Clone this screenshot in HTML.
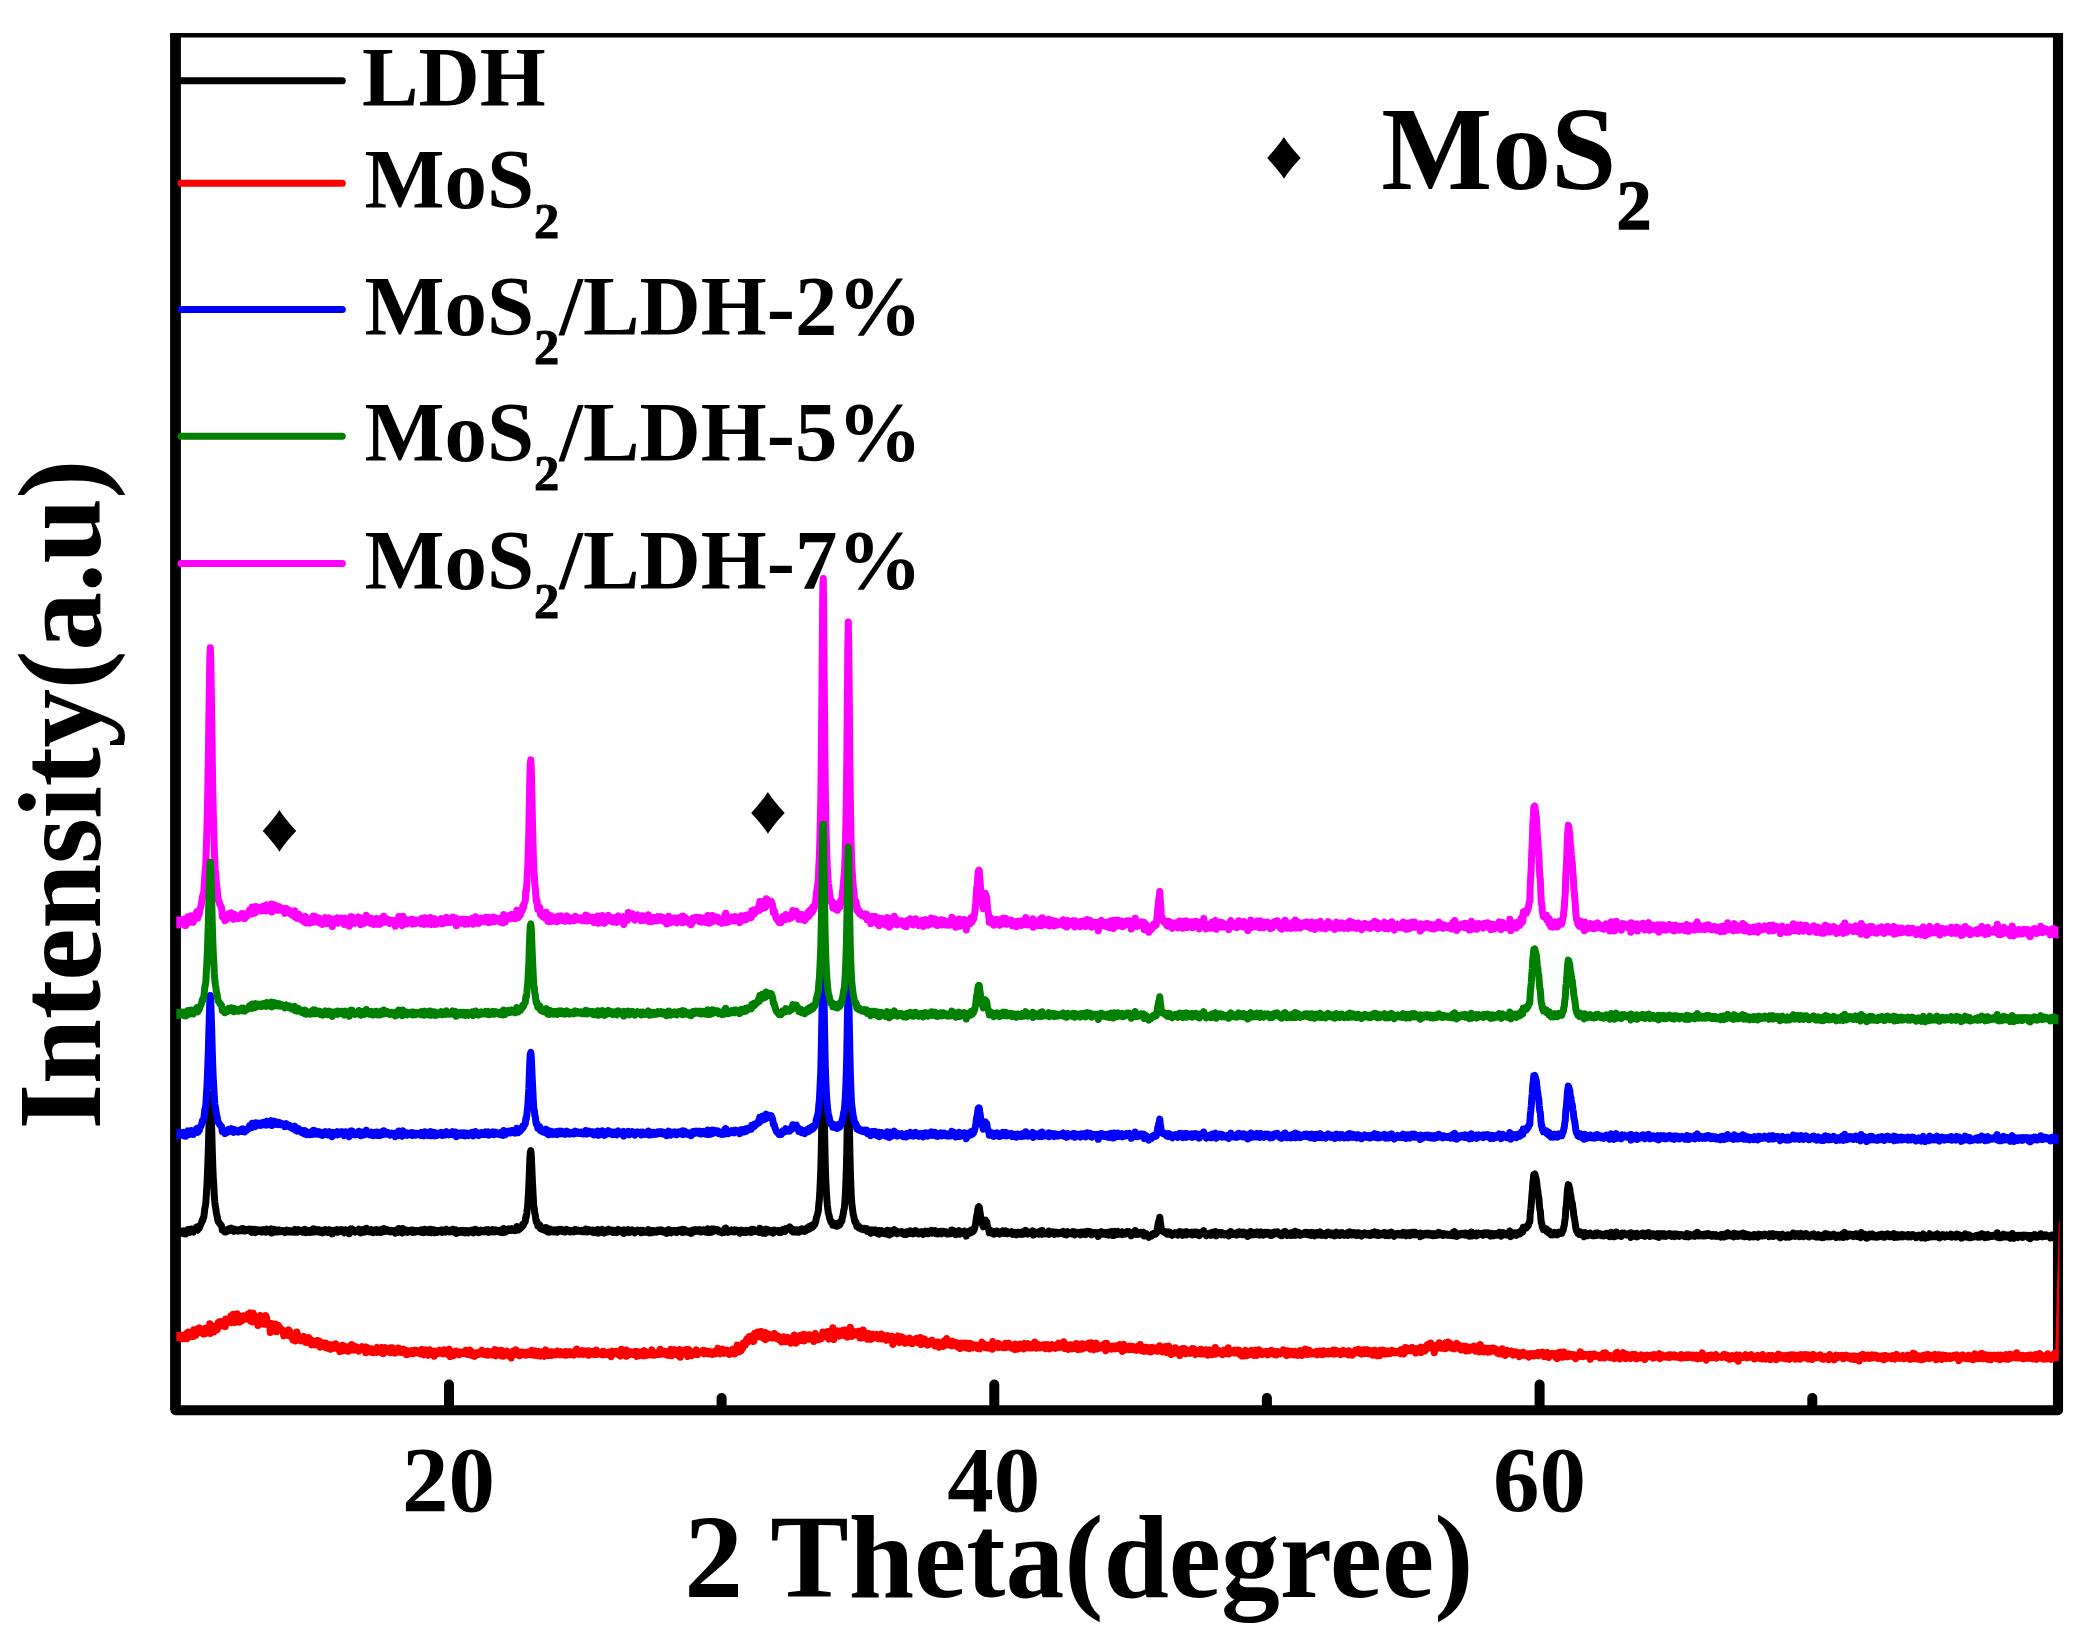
<!DOCTYPE html>
<html lang="en"><head><meta charset="utf-8"><title>XRD patterns</title>
<style>html,body{margin:0;padding:0;background:#fff}body{width:2092px;height:1648px;overflow:hidden}svg{display:block}</style></head>
<body>
<svg width="2092" height="1648" viewBox="0 0 2092 1648" font-family="'Liberation Serif',serif" font-weight="700" fill="#000">
<rect width="2092" height="1648" fill="#fff"/>
<g fill="#000" id="frame">
<rect x="170.1" y="33" width="10.8" height="1377"/>
<rect x="170.1" y="33" width="1892.9" height="4.5"/>
<path d="M175.5 1410.3L2058 1410.3L2058 42" fill="none" stroke="#000" stroke-width="10.1" stroke-linejoin="round" stroke-linecap="round"/>
<rect x="2052.95" y="33" width="10.1" height="10"/>
</g>
<g stroke="#000" stroke-width="10" stroke-linecap="round" id="ticks">
<line x1="449.0" y1="1384.5" x2="449.0" y2="1408"/>
<line x1="994.3" y1="1384.5" x2="994.3" y2="1408"/>
<line x1="1539.6" y1="1384.5" x2="1539.6" y2="1408"/>
<line x1="721.6" y1="1398" x2="721.6" y2="1408"/>
<line x1="1266.9" y1="1398" x2="1266.9" y2="1408"/>
<line x1="1812.3" y1="1398" x2="1812.3" y2="1408"/>
</g>
<g font-size="93" text-anchor="middle" id="ticklabels">
<text x="448.4" y="1510.7">20</text>
<text x="993.7" y="1510.7">40</text>
<text x="1539.6" y="1510.7">60</text>
</g>
<text x="684.2" y="1596.8" font-size="117.6" id="xtitle">2 Theta(degree)</text>
<text transform="translate(100.3,1129.5) rotate(-90)" font-size="117.6" textLength="670" lengthAdjust="spacing" id="ytitle">Intensity(a.u)</text>
<g stroke-width="7" stroke-linecap="round" id="leglines">
<line x1="181" y1="80.7" x2="342.3" y2="80.7" stroke="#000000"/>
<line x1="181" y1="183.3" x2="342.3" y2="183.3" stroke="#ff0000"/>
<line x1="181" y1="309.5" x2="342.3" y2="309.5" stroke="#0000ff"/>
<line x1="181" y1="436.2" x2="342.3" y2="436.2" stroke="#008000"/>
<line x1="181" y1="563.5" x2="342.3" y2="563.5" stroke="#ff00ff"/>
</g>
<g id="legtext">
<text x="362" y="105.7" font-size="84.8">LDH</text>
<text x="364.5" y="208.3" font-size="84.8" >MoS<tspan font-size="50.46" dy="29.26" stroke="#000" stroke-width="0.93">2</tspan></text>
<text x="364.5" y="334.5" font-size="84.8" >MoS<tspan font-size="50.46" dy="29.26" stroke="#000" stroke-width="0.93">2</tspan><tspan dy="-29.26">/LDH-2%</tspan></text>
<text x="364.5" y="461.2" font-size="84.8" >MoS<tspan font-size="50.46" dy="29.26" stroke="#000" stroke-width="0.93">2</tspan><tspan dy="-29.26">/LDH-5%</tspan></text>
<text x="364.5" y="588.5" font-size="84.8" >MoS<tspan font-size="50.46" dy="29.26" stroke="#000" stroke-width="0.93">2</tspan><tspan dy="-29.26">/LDH-7%</tspan></text>
</g>
<text x="1381.2" y="188.9" font-size="117.6" id="annot">MoS<tspan font-size="69.97" dy="40.57" stroke="#000" stroke-width="1.29">2</tspan></text>
<g id="diamonds">
<text transform="translate(1283.9,177.8) scale(1.101,1)" font-size="68.5" text-anchor="middle">♦</text>
<text transform="translate(279.4,850.7) scale(1.101,1)" font-size="68.5" text-anchor="middle">♦</text>
<text transform="translate(767.9,833.2) scale(1.101,1)" font-size="68.5" text-anchor="middle">♦</text>
</g>
<clipPath id="cp"><rect x="1763" y="0" width="18821" height="16480"/></clipPath>
<g fill="none" stroke-width="70" stroke-linejoin="round" stroke-linecap="butt" id="curves" transform="scale(0.1)" clip-path="url(#cp)">
<path stroke="#000000" d="M1743 12347l5-21 5 5 5 3 5-12 5 8 5-1 5-17 5 26 5-4 5-12 5 3 5 6 5-7 5-1 5-12 5 19 5-5 5 1 5-18 5 30 5-15 5-6 5 23 5-21 5-14 5 9 5-19 5 31 5-15 5-4 5 16 5-27 5 20 5-26 5 12 5-7 5 24 5 2 5-22 5 9 5-12 5 5 5-16 5-12 5-4 5 18 5 14 5-24 5-12 5 18 5-22 5-8 5-7 5-13 5-12 5-23 5 4 5-23 5-8 5-41 5-45 5-21 5-30 5-80 5-81 5-100 5-123 5-145 5-187 5-158 5-164 5-54 5 70 5 147 5 166 5 183 5 156 5 115 5 81 5 99 5 62 5 42 5 25 5 37 5 21 5 23 5 32 5 16 5 3 5 10 5 10 5 2 5 8 5 3 5 15 5 33 5-3 5-1 5 8 5 2 5 14 5 0 5-21 5 14 5-16 5 14 5-15 5 12 5-21 5 1 5 6 5 8 5-4 5-17 5 15 5-1 5-4 5-1 5 23 5-19 5-4 5 14 5-4 5-1 5 8 5-2 5-1 5 6 5-6 5-8 5 2 5-1 5 7 5-12 5-7 5 19 5-13 5-6 5 22 5-10 5 12 5-10 5-5 5-1 5 7 5 3 5-6 5 6 5-12 5 15 5-17 5 15 5 9 5 4 5 6 5-31 5 22 5 4 5-2 5-18 5 13 5 14 5-32 5 19 5 6 5-17 5 12 5-16 5 3 5 0 5 10 5-3 5 10 5-18 5 8 5 10 5-4 5-18 5 20 5-11 5 8 5-1 5 9 5-11 5-18 5 4 5 21 5-10 5 13 5-8 5-10 5 18 5-18 5-12 5 40 5-38 5 24 5 3 5-8 5-17 5 26 5-24 5 1 5 10 5 11 5-5 5 5 5-12 5 3 5-10 5 8 5 9 5-9 5 8 5-10 5 0 5 6 5-2 5 7 5-4 5 15 5-19 5 0 5-7 5 10 5 6 5-14 5 7 5 7 5-8 5-3 5 14 5-8 5 2 5 8 5 0 5-15 5-1 5 7 5-4 5-16 5 30 5-12 5 7 5-18 5 23 5-18 5 5 5-13 5 12 5 0 5 0 5 6 5-3 5 8 5-14 5-5 5 10 5 6 5 6 5-4 5-25 5 21 5 10 5-13 5-6 5 8 5-8 5 11 5-6 5 13 5-8 5-12 5 13 5 3 5-14 5 1 5-18 5 31 5-14 5-15 5 3 5 15 5 9 5-8 5 6 5-15 5-3 5 22 5-4 5-5 5 12 5-21 5 5 5 14 5 8 5-18 5 16 5-22 5 9 5-4 5-14 5 18 5 6 5-10 5 1 5 14 5-26 5-2 5 8 5-5 5 24 5-10 5-11 5 2 5 34 5-34 5-1 5 10 5 3 5-4 5-10 5-3 5 17 5-6 5-15 5 27 5-4 5-10 5 0 5 5 5-9 5-7 5 16 5-16 5 17 5-17 5 12 5 0 5 18 5-27 5-3 5 7 5-4 5 5 5 9 5 4 5 8 5-23 5 33 5-7 5-21 5-20 5 22 5 1 5-23 5 23 5-2 5-6 5 13 5 4 5-14 5 7 5-9 5-1 5 8 5 4 5-10 5-16 5 27 5-21 5 17 5 16 5-18 5-11 5-3 5 26 5-12 5 6 5 3 5-9 5-2 5-7 5-20 5 15 5 14 5-1 5 5 5-5 5 3 5 6 5-16 5 6 5-13 5 25 5-9 5 4 5 10 5-4 5-11 5 8 5-21 5 18 5-3 5-17 5 28 5-19 5 13 5-11 5 14 5 3 5-20 5-7 5 13 5 10 5-12 5-2 5 10 5-31 5 20 5-7 5 16 5-10 5-3 5 7 5-11 5 14 5-6 5 3 5-3 5 15 5-10 5 7 5-1 5-12 5 13 5-2 5 0 5-7 5-1 5 12 5 13 5-28 5 13 5-9 5 11 5-3 5 6 5-37 5 21 5-4 5 8 5-5 5 0 5 13 5 12 5-46 5 25 5 5 5-2 5-4 5-9 5 3 5 16 5 4 5-10 5-9 5 9 5-3 5 8 5-4 5-7 5 7 5-13 5 19 5 4 5-23 5 16 5-14 5 20 5-2 5-11 5 12 5-14 5-2 5 1 5 4 5-2 5 5 5-7 5 13 5 2 5-14 5-9 5 20 5 4 5-12 5-11 5 15 5 12 5-33 5 23 5-8 5-5 5 13 5-17 5 15 5 10 5-11 5-10 5-9 5 5 5-5 5 33 5-18 5-8 5-2 5 2 5 7 5-9 5 28 5-23 5 0 5 10 5 11 5-1 5-17 5 7 5-1 5 3 5-2 5-12 5-3 5 14 5-13 5 24 5-12 5-11 5 7 5-2 5 4 5 10 5-23 5-4 5 21 5-4 5 3 5 2 5-6 5 10 5-16 5 9 5-9 5-3 5 17 5 0 5-24 5 7 5 14 5 7 5-16 5 4 5-11 5 37 5-19 5 4 5-3 5 3 5-3 5-9 5 10 5-6 5 11 5-19 5 2 5 11 5 6 5-11 5-8 5 6 5-4 5 23 5-9 5 3 5-9 5-8 5 16 5 5 5-11 5-5 5 10 5-14 5 11 5-14 5-3 5 15 5-2 5 15 5-21 5 3 5-11 5-7 5 1 5 21 5-16 5 22 5 3 5-16 5 18 5-13 5 8 5-13 5 12 5-19 5 15 5-10 5 3 5 7 5-4 5-3 5 8 5 1 5-21 5 18 5 1 5-13 5 11 5-17 5 27 5-17 5 2 5 12 5-13 5 7 5-16 5 5 5-8 5 11 5 12 5-8 5 6 5-18 5 1 5 4 5 10 5-2 5-4 5 6 5-7 5 1 5 12 5-18 5 7 5 14 5-15 5 6 5-13 5 25 5-41 5 11 5 0 5 26 5-13 5-6 5-10 5 16 5-3 5-8 5-8 5 3 5 13 5 0 5-3 5-2 5-16 5 17 5-11 5 9 5 4 5-12 5-4 5 18 5-7 5-11 5-23 5 26 5 5 5 3 5-19 5-2 5 0 5 9 5-22 5 6 5-12 5 7 5-24 5 12 5-17 5-8 5-5 5-10 5-47 5 1 5-37 5-50 5-40 5-86 5-86 5-135 5-129 5-80 5-18 5 46 5 118 5 113 5 102 5 97 5 83 5 18 5 51 5 16 5 42 5 25 5-6 5 20 5 26 5-6 5-4 5 5 5-2 5 30 5-11 5 21 5 1 5-13 5 4 5 14 5-5 5 3 5-17 5 26 5-16 5-13 5 17 5 11 5 17 5-23 5-9 5 34 5-19 5-3 5-7 5 1 5 24 5-17 5-2 5 1 5 20 5-20 5 12 5-4 5 0 5-10 5 15 5 9 5-16 5-8 5-3 5 14 5-4 5 2 5 1 5-14 5 21 5-5 5-2 5 3 5 6 5-8 5-9 5 20 5-15 5-3 5-8 5 15 5-10 5 5 5 10 5-4 5 9 5-7 5-6 5 0 5-1 5 11 5-6 5-4 5 12 5-7 5-6 5-10 5 19 5-2 5-1 5-5 5-4 5 6 5 4 5-3 5 0 5-3 5 8 5-1 5-10 5 15 5 0 5 0 5-9 5 0 5-10 5 19 5-28 5 17 5 0 5 12 5-8 5-10 5-4 5 7 5 8 5-1 5-2 5-5 5 5 5 11 5-20 5 11 5 15 5-10 5-10 5 11 5-13 5 7 5 15 5 3 5-34 5 23 5 12 5-24 5 7 5 12 5-19 5 9 5-5 5-17 5 21 5-5 5 11 5 11 5-13 5-10 5 7 5-2 5 8 5-24 5 3 5-8 5 25 5-6 5-6 5-1 5 2 5-4 5 6 5-2 5 18 5-10 5-11 5 3 5 17 5-7 5-2 5 4 5 8 5-26 5 4 5-9 5 21 5-8 5-3 5-1 5 14 5-8 5-4 5 17 5-22 5-2 5 37 5-28 5-2 5-2 5 6 5 9 5-1 5-2 5-7 5-12 5 17 5 12 5-4 5-12 5 9 5-11 5 3 5-12 5 9 5 5 5-3 5 9 5 10 5-5 5-16 5-4 5 1 5-3 5 10 5 3 5-2 5 0 5 0 5-3 5-6 5 24 5-7 5-18 5 0 5 3 5 6 5 11 5-2 5 1 5 0 5 0 5-4 5-2 5-6 5-15 5 15 5 19 5-23 5-1 5 16 5-9 5-5 5 19 5-9 5 2 5-13 5 10 5-1 5 4 5 3 5 0 5-9 5 5 5-18 5 17 5 1 5-10 5-4 5 7 5-11 5 15 5-1 5-12 5 10 5 10 5 0 5-1 5-11 5-2 5 0 5 9 5 17 5-9 5 2 5-3 5-28 5 13 5-2 5 16 5 4 5-22 5 7 5 5 5-10 5-2 5 0 5 15 5-17 5 19 5-10 5 6 5 8 5-21 5-2 5 12 5-14 5 3 5 6 5 3 5-14 5 9 5 9 5 7 5-31 5 31 5-4 5-19 5-4 5 18 5-8 5 6 5 6 5-11 5 5 5 3 5 4 5 8 5-1 5-13 5-5 5 25 5-17 5-2 5-14 5 18 5-15 5 3 5-9 5 8 5 6 5-15 5 6 5 7 5-11 5 0 5 4 5-5 5 19 5-15 5 16 5 2 5-20 5 12 5-5 5-7 5 8 5 1 5 9 5 3 5-20 5 6 5 9 5 6 5-34 5 35 5-14 5 17 5-19 5-4 5 8 5 11 5-11 5-23 5 30 5-22 5 6 5-2 5-7 5 6 5 3 5 3 5 5 5-2 5-11 5 12 5 11 5 0 5-8 5 5 5 2 5 5 5 3 5-19 5 0 5 17 5 1 5 0 5-38 5 21 5-29 5 38 5-7 5 0 5-2 5 14 5-15 5 13 5-5 5-2 5 1 5-3 5-12 5 18 5 0 5-8 5 8 5 2 5-21 5 11 5-3 5-5 5 12 5-11 5 4 5 7 5 1 5-1 5 19 5-26 5 7 5-14 5 16 5 7 5 0 5-17 5 3 5 15 5-13 5 10 5-19 5 23 5-3 5-6 5-12 5 6 5 3 5 1 5-3 5-1 5 4 5 11 5-32 5 6 5-2 5 9 5-11 5 22 5-4 5-3 5-4 5 8 5 0 5 1 5-10 5 14 5-21 5 26 5-41 5 24 5-6 5 19 5-22 5 32 5-32 5 34 5-15 5-4 5 4 5 16 5-12 5-30 5 33 5-9 5-18 5 23 5-19 5 13 5 1 5-9 5 13 5-16 5 11 5-7 5 4 5 20 5-18 5-11 5 9 5-6 5 7 5 2 5-1 5 0 5-6 5 9 5 6 5-16 5 5 5 1 5 12 5-2 5-17 5 7 5-15 5 5 5 8 5 5 5 1 5-15 5-14 5 12 5-12 5 0 5-8 5 1 5-3 5 2 5-10 5 18 5-9 5 12 5 22 5-10 5-11 5 28 5-3 5 2 5-9 5 2 5-6 5-5 5 21 5-18 5-2 5 0 5 22 5-10 5-12 5 2 5 5 5 3 5-24 5 23 5-12 5-5 5 2 5 11 5 8 5-17 5 3 5-14 5 11 5 2 5-24 5 7 5 11 5-27 5 11 5 7 5-25 5 9 5 1 5 3 5-25 5 17 5-14 5 1 5-8 5-18 5-10 5-36 5-13 5-17 5-19 5-20 5-68 5-41 5-83 5-103 5-113 5-212 5-254 5-323 5-278 5-37 5 261 5 294 5 275 5 229 5 146 5 100 5 81 5 62 5 42 5 40 5 15 5 21 5 26 5 11 5 18 5-3 5 9 5-4 5 30 5-23 5 18 5-7 5 13 5 6 5-23 5 14 5-15 5 29 5-19 5-13 5 5 5 15 5-3 5-9 5-27 5-3 5 5 5-37 5-15 5-29 5-32 5-17 5-59 5-76 5-102 5-143 5-204 5-286 5-278 5-133 5 147 5 261 5 263 5 221 5 151 5 113 5 76 5 37 5 41 5 35 5 16 5 30 5 22 5 9 5-5 5 13 5 31 5-15 5 22 5 4 5-4 5-3 5 15 5-7 5 9 5 5 5-5 5 7 5 1 5-8 5 12 5-3 5-10 5 15 5 2 5-2 5-13 5 28 5 0 5 1 5-3 5-14 5 14 5-10 5 31 5-26 5 12 5-21 5 4 5 7 5 12 5-1 5-2 5-20 5 29 5-20 5 25 5 2 5-9 5 2 5-22 5 37 5-22 5 8 5-18 5 8 5-11 5 10 5 2 5 3 5 11 5-9 5-2 5-2 5 19 5-24 5 17 5-30 5 10 5 13 5-6 5 31 5-4 5-39 5 4 5 9 5 18 5-6 5-7 5-17 5 6 5-18 5 11 5 19 5 4 5-20 5 13 5 15 5-14 5-4 5 9 5-1 5-4 5-6 5 1 5 5 5-6 5 18 5-4 5 2 5 9 5-4 5-2 5-10 5-5 5 24 5-29 5 1 5-2 5 10 5 2 5 6 5-12 5-14 5 19 5 7 5-9 5-2 5 7 5 8 5-14 5-13 5 8 5 4 5-16 5 25 5-15 5 13 5-3 5-5 5 18 5-20 5-1 5 9 5 5 5-8 5-9 5 16 5-1 5 14 5-22 5 4 5-7 5-9 5 15 5 8 5-18 5 3 5-5 5 24 5-18 5 11 5-14 5 9 5-6 5-17 5 23 5 5 5-25 5 18 5-2 5-6 5 8 5-17 5 21 5 9 5-23 5 11 5 15 5-13 5-6 5-4 5 11 5-3 5 7 5-20 5 25 5-15 5 10 5-13 5-5 5 7 5-4 5 6 5 10 5 4 5-9 5-7 5 1 5 10 5 5 5-14 5 2 5-6 5 9 5 8 5-37 5 30 5-8 5-17 5 25 5-3 5 4 5-17 5 34 5-20 5-4 5 18 5-8 5 1 5 3 5-31 5 36 5-19 5 6 5 6 5-16 5 10 5 4 5-8 5 5 5-20 5 4 5 0 5 15 5 32 5-34 5-4 5 0 5 10 5-3 5-18 5 20 5-11 5 8 5-28 5 2 5 19 5-26 5 16 5-9 5-13 5-14 5-23 5-27 5-42 5-33 5-8 5-48 5-23 5-5 5 5 5 36 5 30 5 46 5 12 5 10 5 31 5 17 5 14 5-22 5-31 5-2 5-12 5 9 5 3 5 8 5 38 5 15 5 12 5 17 5 25 5-12 5-1 5 15 5-23 5 24 5-14 5 0 5 10 5 15 5-23 5 17 5-6 5-16 5 22 5-17 5-6 5 7 5 1 5 12 5-12 5 21 5-12 5-9 5-1 5 11 5-22 5-1 5 12 5 15 5-5 5-1 5-2 5-19 5 18 5-14 5 25 5-8 5-1 5 5 5-1 5-1 5 2 5-9 5-7 5 16 5 10 5-4 5-12 5 8 5-10 5 8 5-9 5 7 5 18 5-12 5 7 5-22 5 1 5 6 5 6 5-7 5 12 5-15 5 18 5-4 5-20 5 17 5-8 5 12 5-15 5 8 5 2 5-31 5 8 5 19 5-2 5 11 5-8 5-14 5 15 5-10 5 5 5-3 5 9 5-17 5 3 5-11 5 42 5-30 5 1 5-3 5 5 5 2 5 10 5-4 5 2 5-9 5 5 5 12 5-12 5 4 5-23 5 25 5-3 5 10 5-39 5 27 5-1 5 2 5-7 5 8 5 5 5-7 5-3 5 1 5-2 5 4 5-7 5-12 5 32 5-30 5 16 5-12 5 10 5-6 5 8 5-7 5-4 5 15 5 10 5-10 5-2 5-11 5 9 5 5 5-10 5 15 5-9 5 3 5-8 5 0 5 7 5 2 5-1 5-13 5 3 5 7 5-18 5 28 5-7 5-2 5-8 5 15 5-10 5 20 5-14 5-18 5 21 5-12 5 0 5 3 5 1 5 4 5 5 5-3 5-12 5-6 5 6 5 11 5 5 5 9 5-30 5 13 5-3 5-1 5 5 5-4 5 0 5-4 5 10 5 7 5 5 5-20 5-6 5 8 5-5 5 17 5-17 5 8 5-13 5 9 5 6 5 12 5-21 5 10 5-23 5 8 5 4 5 3 5 9 5 2 5-22 5 21 5-16 5 28 5-14 5-2 5-3 5 2 5 0 5-7 5 14 5-4 5 4 5-8 5 8 5-14 5 41 5-41 5 3 5 13 5 3 5-19 5-9 5 3 5 4 5 2 5 6 5 11 5 1 5-17 5 11 5 4 5 5 5-15 5-6 5 15 5 7 5-20 5 24 5-2 5-19 5-13 5 10 5 2 5 9 5-22 5 40 5-1 5-29 5-11 5 16 5 6 5 8 5-6 5-8 5-17 5 24 5 3 5-11 5 5 5 0 5-5 5-8 5 14 5-17 5 27 5-22 5 13 5-11 5 10 5-5 5 7 5-13 5-8 5 13 5-1 5-11 5 8 5-9 5 17 5-5 5 4 5 25 5-24 5 3 5 2 5-7 5-5 5 14 5 2 5-38 5 26 5-1 5-2 5 17 5-17 5 13 5-13 5 1 5 11 5-14 5 6 5-9 5 2 5 15 5-1 5-16 5 1 5 37 5-29 5 0 5 15 5-9 5 7 5 16 5 4 5-9 5 17 5-13 5-1 5 1 5-5 5 5 5-6 5-14 5 6 5-10 5-4 5 2 5 9 5-10 5 6 5-3 5-27 5-24 5-29 5-22 5-25 5-11 5-26 5 43 5 33 5 45 5 4 5 14 5-4 5 12 5 0 5 2 5 2 5-6 5 14 5 5 5 4 5-8 5 11 5 0 5-24 5 12 5-9 5 2 5 11 5-2 5 15 5 6 5-16 5-6 5 1 5 1 5 6 5-13 5 13 5-8 5 12 5 3 5 4 5-18 5-11 5-4 5 14 5-11 5-2 5 12 5-6 5 16 5 12 5-20 5 5 5-18 5 17 5-9 5-4 5-7 5 33 5-31 5 4 5 12 5 3 5 0 5-2 5-10 5 16 5-5 5-16 5 29 5-18 5 12 5-23 5 3 5 6 5-1 5 16 5-25 5 17 5-11 5 14 5-3 5-7 5 27 5-22 5 11 5-23 5 11 5 2 5 1 5-5 5-4 5-22 5 24 5-3 5 6 5 11 5 13 5-16 5 4 5-3 5 1 5-2 5-8 5 0 5 6 5 14 5-10 5 8 5-27 5 14 5 2 5 1 5-18 5-5 5-2 5 16 5 27 5-21 5-14 5 15 5-6 5 5 5-6 5-8 5 7 5 12 5-4 5 9 5-22 5 20 5-9 5 1 5 10 5-13 5 4 5 4 5 0 5 1 5 5 5-7 5-10 5 28 5-24 5 4 5-10 5-14 5 13 5 8 5 5 5-5 5 7 5 2 5 0 5-9 5 1 5-3 5-6 5 22 5-26 5 11 5 3 5-22 5 27 5-10 5 5 5-5 5-12 5 17 5-1 5 9 5-5 5-21 5 27 5-3 5 0 5-3 5-12 5 12 5-8 5 31 5-30 5-8 5 7 5 17 5-19 5-18 5 37 5-11 5-7 5 11 5-15 5-3 5 20 5-14 5 10 5-4 5 7 5-7 5-20 5 26 5-11 5 13 5-7 5 12 5-17 5-16 5 16 5 8 5-8 5-1 5 19 5-16 5 12 5-9 5-15 5 5 5 6 5 6 5-11 5-6 5 4 5 5 5-4 5 3 5 23 5-15 5-10 5 8 5 15 5-9 5-7 5-12 5-4 5 13 5 3 5-15 5 3 5 12 5-20 5 4 5 16 5 6 5-2 5 6 5 6 5-7 5-11 5 23 5-4 5-7 5-17 5 12 5-24 5 17 5-21 5 20 5 14 5-10 5 16 5-16 5 1 5-4 5 8 5-5 5 12 5 4 5-12 5-15 5 17 5 7 5-6 5-4 5 6 5 4 5-38 5 40 5-7 5-3 5-10 5 8 5 3 5-20 5 22 5-7 5 14 5-8 5-8 5 2 5 6 5-5 5 4 5-12 5-5 5 6 5-8 5 6 5 11 5-19 5 4 5 19 5-12 5 5 5-12 5 2 5 7 5 18 5-11 5-20 5 20 5 5 5-3 5-18 5 11 5 21 5-29 5 12 5-10 5-5 5 8 5 14 5 1 5-20 5 4 5-4 5-11 5 26 5 9 5-1 5-19 5 18 5-3 5-13 5 3 5-4 5 6 5 15 5-26 5-2 5 19 5-7 5-19 5 8 5 2 5 2 5 9 5 7 5-11 5 3 5-9 5 17 5 3 5-15 5-5 5 27 5-11 5-17 5-8 5 14 5 14 5-17 5 3 5-2 5 11 5 7 5-26 5 10 5 1 5-4 5-6 5 19 5-6 5 5 5 8 5-18 5 9 5-9 5 3 5 4 5-5 5-13 5 29 5-13 5-12 5-10 5 20 5 7 5 3 5 1 5-14 5 10 5-21 5 16 5 8 5-15 5 4 5 3 5 0 5 13 5-25 5 24 5-25 5 5 5-1 5 7 5-4 5 10 5-5 5 21 5-17 5-6 5 6 5 2 5-8 5-9 5 3 5 10 5 6 5-3 5-6 5 6 5-10 5 8 5 11 5-3 5 2 5-16 5 5 5-12 5 19 5-13 5-8 5 7 5 8 5-24 5 8 5 23 5-9 5-1 5-15 5 30 5-5 5-3 5-17 5 16 5 5 5-14 5 1 5-2 5 10 5-8 5-1 5-11 5-2 5 25 5 6 5-6 5 5 5-19 5 5 5 4 5-5 5 17 5-28 5 7 5 2 5-3 5 14 5-27 5 30 5-2 5-6 5 11 5 9 5-21 5 6 5-4 5 2 5-10 5-2 5 12 5-10 5 14 5-2 5-12 5 8 5-3 5-2 5 13 5-11 5 2 5-21 5 25 5-20 5 10 5 19 5 2 5-21 5-8 5 16 5-8 5 7 5-16 5 24 5 4 5-29 5 7 5 1 5 13 5-26 5 21 5-4 5-5 5 14 5-25 5 5 5 6 5 14 5-10 5-4 5 12 5-9 5-2 5 4 5 6 5 22 5-36 5 13 5-4 5-1 5 17 5-7 5-1 5-10 5-4 5 11 5-6 5-2 5 11 5-17 5 4 5 15 5-9 5 8 5-15 5 15 5-14 5 20 5-5 5-3 5 10 5-11 5-10 5 21 5-11 5 8 5-10 5 10 5-20 5-3 5-2 5 21 5-26 5 2 5 3 5 16 5 2 5-12 5 15 5-4 5 8 5-2 5-16 5 9 5-4 5 6 5-2 5-2 5 7 5-6 5 6 5-7 5-1 5 10 5 0 5 3 5-6 5-8 5 4 5 0 5-18 5 6 5 25 5-15 5-27 5 26 5 3 5-13 5 33 5-11 5-3 5-9 5 6 5 4 5-4 5-11 5 8 5 0 5 1 5-12 5 12 5-2 5 2 5-1 5-15 5 22 5-1 5-20 5 12 5-8 5 4 5 14 5-4 5 13 5-18 5-11 5 12 5-25 5 41 5-15 5 2 5-3 5-10 5 7 5-6 5 3 5 8 5-15 5 27 5-26 5 18 5-14 5-6 5 16 5-2 5-4 5 2 5-6 5 10 5-9 5 5 5 11 5-24 5 7 5-1 5-1 5-5 5 10 5 4 5-2 5-14 5 21 5 0 5-6 5-10 5 2 5 26 5-2 5-12 5-13 5 21 5-11 5 14 5-21 5 10 5-6 5 9 5-14 5 15 5-12 5-5 5 14 5-3 5-23 5 20 5 1 5 1 5 18 5-26 5 6 5-16 5 2 5 9 5 4 5-1 5 8 5 1 5 2 5-11 5 6 5-11 5 10 5 1 5-10 5-26 5 25 5 31 5-26 5-5 5 7 5 9 5-8 5-5 5-10 5 9 5-9 5 15 5 10 5-4 5-16 5-5 5-4 5 17 5-1 5 1 5-7 5-19 5-11 5 23 5-26 5 18 5-46 5 2 5-4 5 7 5 2 5-12 5 12 5-18 5 7 5-11 5-4 5-17 5-15 5-4 5-89 5-41 5-51 5-70 5-53 5-85 5-34 5-51 5-1 5-4 5 18 5 19 5 19 5 40 5 50 5 24 5 47 5 22 5 64 5 51 5 15 5 67 5 53 5 4 5 40 5 7 5 17 5-8 5-2 5 3 5 0 5-1 5 0 5 24 5-10 5 0 5 9 5 19 5-22 5 29 5 3 5 7 5-16 5-3 5 10 5 0 5 11 5-12 5-5 5-9 5 11 5 3 5 10 5-11 5 12 5-2 5-20 5-4 5 4 5 3 5-7 5 12 5-2 5 1 5-14 5-15 5-5 5-31 5-16 5-44 5-28 5-92 5-30 5-65 5-71 5-46 5-30 5 6 5 22 5 15 5 52 5 12 5 40 5 27 5 11 5 46 5 26 5 53 5 23 5 27 5 36 5 37 5 22 5 13 5-1 5 21 5-9 5 6 5 13 5-10 5-15 5 26 5-6 5-3 5 16 5-18 5 13 5-4 5 24 5-42 5 19 5 2 5 8 5-15 5-2 5 20 5-17 5 7 5-3 5 4 5-16 5 8 5 4 5 2 5 10 5-6 5 1 5-6 5 13 5-18 5 5 5-13 5 4 5 18 5-8 5-18 5 18 5-2 5-9 5 15 5-6 5 3 5 9 5-15 5 16 5-13 5 0 5 15 5-8 5-8 5 3 5 3 5-16 5 21 5-7 5-12 5 3 5 18 5-21 5 33 5-31 5 12 5-26 5 24 5-4 5 9 5-3 5-5 5 24 5-13 5-14 5 10 5-31 5 22 5 18 5-18 5 7 5-12 5 18 5-6 5-1 5 9 5 7 5-8 5-25 5 21 5-1 5-14 5-4 5 11 5 1 5 2 5-6 5 9 5 1 5-6 5 7 5-9 5-10 5 15 5 9 5 17 5-46 5 15 5-3 5 11 5-11 5 10 5 8 5-17 5 7 5 16 5-7 5-24 5 36 5-27 5 10 5-7 5-1 5-2 5 13 5-14 5-4 5 6 5 6 5-19 5 27 5-15 5 14 5 6 5-10 5 2 5-9 5-2 5-12 5 16 5-3 5-17 5 25 5 12 5-11 5 8 5-14 5-7 5 10 5-4 5-7 5 20 5-8 5-8 5 9 5-4 5 8 5 9 5-21 5-6 5 25 5 10 5-29 5-3 5-3 5 12 5 1 5-3 5 10 5-16 5 2 5-6 5 25 5-3 5 3 5-21 5 21 5-10 5 4 5-1 5-9 5 2 5-13 5 9 5 3 5-9 5 12 5 12 5-17 5-5 5 2 5 9 5 15 5-15 5-1 5-12 5 15 5 3 5-10 5 4 5-6 5 13 5 6 5-9 5 1 5-4 5-7 5-1 5 3 5 5 5-1 5 10 5-3 5 7 5-6 5-10 5 3 5-16 5 31 5-21 5 1 5 22 5-28 5 5 5 5 5-5 5 6 5 2 5 4 5-7 5 7 5-10 5 9 5 6 5-28 5 15 5 3 5-19 5-11 5 32 5-9 5 13 5-7 5 0 5-3 5 4 5-10 5 4 5 13 5-10 5 7 5-5 5-3 5-6 5 17 5-16 5 12 5-19 5 18 5 1 5-10 5-9 5 14 5 2 5-6 5-1 5 15 5-10 5-3 5 13 5-9 5-6 5 15 5-12 5 12 5-15 5 10 5 8 5-7 5 0 5 0 5 4 5-7 5 3 5-6 5 20 5-26 5 16 5-17 5 14 5 7 5-22 5 27 5-26 5 1 5 11 5-13 5 19 5-4 5-31 5 13 5 6 5 11 5-14 5 3 5 13 5-15 5 12 5-16 5 23 5 4 5-25 5-11 5 6 5 25 5-14 5 15 5-23 5 4 5 8 5 11 5-12 5-8 5 13 5-2 5 4 5-6 5-5 5 6 5-23 5 26 5 9 5-7 5-14 5-5 5 27 5-17 5 2 5 4 5-7 5 6 5 14 5-19 5 23 5-15 5-1 5 6 5 0 5 1 5-4 5-11 5 21 5-17 5-6 5 16 5-2 5-7 5 1 5 5 5 13 5-19 5-11 5 6 5 11 5-7 5-5 5 14 5 0 5-9 5 5 5-9 5 0 5 3 5-10 5 16 5-4 5-4 5 6 5 0 5-8 5 1 5-2 5 21 5-29 5 15 5 9 5-18 5 1 5-1 5-7 5 28 5-14 5-8 5 4 5 8 5-5 5-5 5 13 5-13 5 4 5 6 5-9 5 8 5-7 5 31 5-29 5 11 5-15 5-3 5 10 5-2 5 0 5 3 5 8 5 10 5 1 5-18 5 16 5-1 5-22 5 1 5 4 5 19 5-19 5-1 5 15 5-15 5 0 5 7 5-4 5-24 5 11 5 18 5-20 5 25 5-12 5 3 5 0 5-19 5 10 5-3 5 12 5 12 5-16 5 3 5-20 5 15 5 2 5 0 5 8 5 7 5-13 5 4 5-19 5 21 5-6 5-16 5 19 5-9 5 16 5-5 5-4 5 16 5-18 5-2 5 4 5 0 5-9 5 14 5-2 5-9 5-9 5 26 5 1 5-4 5 1 5 8 5-14 5 13 5-17 5-7 5 9 5-3 5 7 5 13 5-13 5 6 5 10 5-3 5-16 5-7 5 26 5-30 5-7 5-2 5 30 5-25 5 12 5 1 5 14 5-26 5 14 5 2 5 11 5-16 5 5 5-5 5 13 5-2 5-12 5 9 5-20 5 15 5-9 5 5 5 13 5 11 5-18 5-4 5-2 5 11 5-9 5 11 5 5 5-8 5-10 5 11 5-14 5-10 5 28 5 7 5-5 5-17 5-28 5 25 5 13 5-10 5 17 5-21 5 13 5-3 5 0 5-16 5 13 5 3 5-6 5-9 5 8 5-4 5 12 5 6 5-6 5 0 5-5 5 4 5-21 5 20 5 7 5-13 5 12 5-21 5 14 5-2 5 6 5-3 5 20 5-52 5 17 5 8 5 7 5-7 5 0 5-9 5 2 5 5 5 23 5-23 5 35 5-17 5-13 5 11 5 2 5-21 5-4 5 29 5-23 5 18 5-2 5-23 5 23 5-1 5 7 5-13 5 5 5-1 5-6 5 18 5-6 5 5 5-11 5 8 5-21 5 4 5 15 5-12 5-1 5 5 5-17 5 17 5 3 5-7 5-8 5 27 5-12 5-14 5 4 5-10 5-1 5-2 5 11 5 12 5 3 5-8 5 11 5-5 5-16 5 3 5 11 5 3 5 4 5-23 5-6 5 38 5-22 5 13 5-10 5-13 5 27 5-9 5 9 5-8 5-15 5 9 5 10 5-16 5 8 5 9 5-23 5 9 5 5 5 8 5-10 5-6 5 12 5-11 5 10 5-1 5-5 5 10 5 3 5-24 5 18 5-7 5-1 5 4 5 10 5-13 5-1 5-9 5 10 5 2 5-9 5 6 5 8 5 8 5-16 5 22 5-9 5-2 5-2 5-5 5-7 5 6 5 1 5 1 5 13 5 5 5-14 5 4 5-16 5-12 5 18 5 3 5 11 5 10 5-21 5 10 5-1 5-9 5 6 5-4 5 11 5-25 5-12 5 23 5 8 5 1 5-15 5 10 5-11 5 13 5-14 5-3 5 19 5-21 5-2 5 22 5-7 5-23 5 34 5-23 5 7 5 3 5 21 5-20 5 9 5-10 5 6 5-18 5 14 5-6 5-4 5 12 5 8 5-6 5-7 5 10 5-18 5 14 5 2 5-6 5-2 5 4 5-7 5 4 5 9 5-26 5 31 5-8 5-2 5-12 5 6 5-2 5 12 5 0 5 5 5-11 5-20 5 11 5 5 5 7 5-18 5 13 5 2 5-6 5 4 5 23 5-21 5 19 5-17 5-9 5 12 5-9 5 3 5-21 5 25 5-9 5 17 5-10 5-5 5-6 5 10 5-4 5-4 5 26 5-20 5 10 5 6 5-10 5 2 5-1 5 4 5-4 5 0 5-4 5-6 5 1 5-2 5 8 5 10 5-21 5 3 5-3 5 8 5 11 5-13 5 6 5-25 5 21 5 6 5-11 5-9 5 19 5-5 5 18 5-22 5 4 5-3 5 5 5-18 5 30 5-7 5-8 5-1 5 8 5-1 5-8 5 3 5 4 5-7 5 1 5-1 5 1 5-9 5 3 5 13 5 4 5-8 5-33 5 19 5 18 5 12 5-4 5-14 5-1 5-1 5 21 5-14 5-11 5 18 5-2 5-27 5 14 5 15 5-1 5-20 5 12 5 8 5-5 5-13 5 8 5 8 5-2 5-13 5 31 5-20 5-16 5 11 5-23 5 19 5 7 5 23 5-21 5 2 5 3 5-5 5-8 5 19 5-8 5 10 5-5 5-19 5 5 5 0 5 1 5 8 5-6 5-6 5 21 5-1 5-12 5-11 5 5 5-2 5-1 5-1 5 12 5 0 5 2 5-13 5 11 5 16 5-16 5-6 5 29 5-22 5-9 5 14 5-15 5 3 5 13 5-15 5-8 5 20 5 2 5-21 5 10 5 13 5-8 5 6 5-9 5-5 5 1 5 2 5 5 5-27 5 7 5 18 5 6 5-12 5 6 5-10 5-3 5 15 5-2 5-4 5-8 5 13 5-1 5-2 5 1 5-2 5 8 5-1 5 13 5-4 5-13 5-11 5 17 5-11 5 20 5-29 5 10 5 19 5-15 5 7 5-1 5-10 5 12 5-16 5 5 5 23 5-21 5 5 5-14"/>
<path stroke="#ff0000" d="M1743 13410l5-44 5 3 5 1 5-7 5-10 5 20 5-5 5 7 5-19 5 0 5 10 5 5 5-19 5 16 5-6 5 25 5-10 5-4 5 9 5-34 5 38 5-25 5-14 5 16 5-31 5 56 5-32 5-36 5 6 5 11 5-2 5 19 5 8 5 2 5-11 5-32 5 41 5 2 5-67 5 27 5 4 5-10 5 36 5-13 5-9 5-28 5-19 5 23 5 1 5-3 5-27 5 11 5 23 5 15 5-20 5 5 5 3 5-1 5 26 5-44 5 20 5-34 5 53 5-11 5 5 5-21 5-6 5-27 5 33 5 21 5-93 5 98 5-59 5 27 5-31 5 12 5 20 5-25 5 42 5-43 5 11 5-31 5-1 5 0 5 18 5 24 5-40 5-34 5 13 5-21 5 41 5-13 5-29 5 14 5 29 5-14 5-28 5 30 5-11 5-26 5 16 5 39 5-76 5 50 5-31 5 17 5-8 5-5 5-13 5 2 5 16 5-7 5-51 5 48 5 20 5-12 5-19 5-53 5 61 5 1 5 20 5-64 5 18 5-8 5 6 5-39 5 32 5 0 5 1 5 51 5-59 5 4 5 41 5-45 5 46 5-20 5-29 5-2 5 22 5-9 5 7 5-17 5 30 5-33 5 5 5 8 5-28 5 25 5 3 5-33 5-9 5 80 5-39 5 3 5-13 5 59 5-47 5-41 5 61 5-38 5 37 5-14 5 37 5-20 5-22 5 48 5 35 5-85 5 43 5-17 5 2 5-43 5 8 5 64 5-32 5-16 5 62 5-13 5-11 5-42 5 27 5 40 5-86 5 14 5 22 5 48 5-16 5 10 5-4 5 1 5 31 5 62 5-74 5 24 5-39 5 53 5-33 5 6 5-12 5-4 5 8 5-7 5-4 5 76 5-30 5 15 5-8 5-42 5 36 5-18 5 4 5 18 5 9 5 0 5 3 5-7 5 9 5 29 5 23 5-22 5-27 5 15 5 15 5 3 5 7 5 2 5-16 5-12 5-25 5 58 5-8 5-29 5 21 5-7 5 1 5 48 5-42 5 60 5-51 5-9 5 19 5 49 5-50 5 16 5-54 5 59 5-37 5 28 5 31 5-30 5 22 5-17 5 0 5 15 5 17 5-17 5 0 5-16 5-11 5 37 5-4 5 11 5 16 5-2 5-30 5 23 5 2 5-8 5-35 5 29 5 14 5 17 5-18 5-18 5 51 5-24 5-6 5 19 5 4 5-13 5-8 5 2 5 25 5-15 5 12 5-41 5 26 5 3 5 0 5-25 5 27 5 37 5-21 5-14 5-2 5-10 5 29 5-16 5 7 5 24 5 2 5-5 5-37 5 19 5 31 5-39 5 42 5-20 5 17 5-21 5-12 5 4 5 42 5-29 5-13 5 34 5-38 5 24 5 9 5 0 5 2 5-7 5-38 5 44 5-4 5-2 5 12 5 5 5-9 5 21 5 12 5-31 5-10 5-15 5 31 5-38 5 57 5-12 5-24 5 20 5-24 5-4 5 31 5-29 5 21 5-6 5 28 5-20 5 21 5-11 5-26 5-6 5-15 5 35 5-45 5 32 5-25 5 28 5 22 5-25 5 6 5 1 5 12 5-27 5 25 5-3 5-14 5 1 5 35 5-8 5-4 5-20 5 8 5-14 5-7 5 20 5-2 5-9 5 0 5 25 5-12 5-18 5 57 5-59 5 31 5-19 5 27 5-9 5 15 5-17 5-11 5 35 5-23 5-2 5 1 5-9 5 17 5 21 5-3 5-18 5 6 5 2 5-22 5 34 5-19 5-32 5 38 5-24 5 19 5 6 5-15 5 10 5 17 5-42 5-8 5 28 5-2 5 36 5-17 5-6 5-10 5-28 5 10 5 15 5 8 5-9 5 9 5 9 5-21 5 4 5-8 5 34 5-49 5 40 5 3 5-43 5 24 5 24 5-30 5 5 5 9 5 21 5-11 5-19 5-10 5-2 5 28 5-38 5 25 5 17 5-26 5 13 5 4 5 13 5-32 5 22 5-2 5 3 5-25 5 32 5-20 5 11 5-11 5 42 5-28 5 31 5-41 5 6 5 26 5-27 5 12 5 11 5-23 5-4 5 6 5 19 5-9 5 13 5-23 5-3 5-9 5 12 5-4 5 7 5-12 5 3 5 6 5 19 5-19 5-3 5 23 5 5 5-24 5 1 5-23 5 4 5 22 5 21 5 7 5-15 5-19 5 15 5-29 5 20 5-16 5 18 5 21 5 11 5-29 5 3 5-30 5 15 5 32 5-5 5-5 5-6 5 18 5-28 5 1 5 44 5-54 5 20 5-12 5 27 5-26 5-1 5 1 5 16 5-26 5-7 5 20 5-3 5 13 5-13 5-4 5 14 5 2 5 8 5-13 5-28 5 26 5 1 5-2 5 10 5-12 5 21 5-21 5 25 5-37 5-18 5 21 5 55 5-45 5 2 5 6 5-10 5 10 5-2 5 29 5-13 5-13 5 6 5-1 5-25 5 32 5-25 5 21 5-10 5 12 5 7 5-12 5-15 5 2 5 13 5-14 5 1 5 4 5-4 5 13 5-14 5 8 5-12 5-14 5 36 5 3 5-21 5 19 5-7 5-22 5 35 5-46 5 28 5 11 5-26 5 39 5-32 5 27 5-21 5 13 5-10 5 35 5-28 5 9 5-5 5-7 5-6 5 9 5 9 5-1 5-5 5-10 5 12 5-24 5 14 5-29 5 20 5 7 5-18 5 4 5 30 5-6 5 9 5 1 5-7 5 2 5-7 5 14 5-40 5 19 5 18 5-3 5-11 5-5 5 17 5-15 5-14 5 33 5-22 5 9 5-26 5-14 5 44 5 17 5-57 5 26 5 15 5-5 5-1 5-2 5-13 5 30 5-2 5-9 5-38 5 57 5-24 5 8 5 20 5-9 5-20 5 17 5-7 5-16 5 10 5-27 5 2 5 26 5 17 5-34 5 31 5-15 5 24 5-31 5 48 5-36 5-10 5 7 5-30 5 31 5-9 5 11 5-11 5-35 5 2 5 28 5-9 5 31 5-29 5 22 5-9 5 25 5-21 5 2 5-18 5 20 5 4 5-11 5 12 5-25 5 11 5 9 5-10 5 22 5-8 5-18 5-5 5 13 5-10 5 5 5-11 5 28 5-9 5 2 5 7 5-45 5 34 5-4 5 13 5-2 5 0 5 11 5-46 5 12 5 33 5 3 5-33 5 28 5-3 5-33 5 11 5 14 5-6 5 27 5-17 5 4 5-22 5-9 5 9 5 29 5 7 5-39 5 10 5-34 5 54 5-36 5 31 5 5 5-37 5 6 5 23 5 9 5-27 5-7 5 20 5 13 5-34 5 4 5 28 5-14 5-14 5 12 5 6 5 8 5-10 5-5 5-24 5 32 5 0 5-5 5-2 5 1 5 12 5-19 5-12 5 30 5-18 5 1 5 10 5-10 5 3 5-15 5 35 5-38 5 38 5-37 5 8 5 4 5 19 5-10 5-10 5-11 5 32 5-14 5 6 5-9 5-4 5 16 5-5 5 12 5-13 5-24 5 32 5-11 5-4 5-41 5 32 5 15 5-11 5 12 5 5 5-9 5-13 5 20 5-1 5-9 5-24 5 10 5 29 5-15 5-22 5 23 5 3 5 8 5-2 5-1 5-17 5-13 5 15 5 29 5-42 5 35 5-35 5 3 5 20 5-13 5 8 5-13 5 19 5 10 5-33 5 29 5-3 5 6 5-44 5 46 5-30 5 13 5-3 5-8 5 2 5 2 5 13 5 8 5-15 5 16 5-10 5 15 5-36 5 21 5-2 5 2 5 3 5 7 5-10 5 6 5-12 5 2 5-7 5 24 5-4 5 7 5-25 5 4 5 38 5-20 5-36 5 31 5-5 5-10 5 1 5-8 5 4 5-3 5-6 5 11 5-7 5 23 5 5 5-18 5-2 5 14 5-11 5 31 5-68 5 5 5 18 5 22 5 5 5-18 5 7 5-5 5 11 5 23 5-62 5 64 5-16 5-20 5 12 5-8 5 7 5 0 5 5 5-26 5 23 5-18 5 5 5 16 5-18 5 11 5 0 5-3 5-19 5 24 5-4 5 30 5-48 5 31 5-22 5 2 5 29 5-27 5 14 5-10 5-15 5 10 5-3 5 3 5 30 5-20 5-32 5 52 5-21 5 7 5 10 5-35 5 17 5-7 5-3 5 1 5 6 5 15 5-6 5-7 5 14 5-51 5 34 5 4 5 0 5 16 5-18 5 17 5-23 5 13 5-8 5-6 5 12 5 0 5-21 5 27 5-18 5 5 5-40 5 39 5-28 5 40 5-23 5 4 5 4 5-16 5 19 5-18 5 15 5 15 5 6 5 2 5-24 5-10 5 21 5 15 5-35 5 32 5-21 5-37 5 39 5 27 5-17 5 5 5-10 5-30 5-10 5 19 5 10 5-9 5 3 5 23 5 9 5-45 5 9 5 14 5-2 5-31 5 77 5-33 5-5 5-33 5 32 5-22 5 25 5-3 5-4 5 5 5-14 5 10 5-37 5 45 5-13 5 40 5-36 5-36 5 57 5-34 5-6 5 16 5 20 5 9 5-34 5 9 5 0 5-13 5 2 5 5 5 1 5 17 5-45 5 36 5-2 5 15 5-26 5 0 5 7 5-10 5-1 5-1 5 0 5-6 5 7 5-3 5 0 5-9 5 34 5-10 5-5 5-15 5 25 5-13 5 2 5 3 5-4 5 17 5-27 5 2 5 12 5-5 5 11 5 5 5 7 5-7 5-18 5 2 5-3 5 22 5-21 5-9 5-3 5 27 5-24 5-27 5 50 5-6 5 6 5 4 5-8 5-1 5-5 5-13 5-20 5 2 5 35 5 6 5-11 5-12 5 20 5-10 5 1 5-6 5-13 5 2 5 20 5 18 5 2 5-30 5 8 5-9 5 3 5 2 5 6 5-32 5 43 5-31 5-15 5 50 5-52 5 12 5-13 5 28 5-63 5 45 5-33 5 48 5 6 5-23 5-31 5 29 5 14 5-37 5-14 5 27 5-53 5 13 5-1 5-2 5 13 5-28 5-23 5-11 5 18 5 7 5 4 5-11 5-44 5 34 5-29 5 35 5-36 5-3 5-9 5 28 5-25 5 57 5-34 5-50 5 22 5 21 5-6 5-5 5-8 5-37 5 1 5 48 5-29 5 14 5 13 5-51 5 0 5 51 5-22 5 6 5 31 5-28 5 5 5 8 5-41 5 72 5-27 5-18 5 35 5-42 5 6 5-10 5 21 5-10 5 21 5-18 5 20 5 4 5 0 5 0 5-5 5-18 5-22 5 47 5-34 5 35 5-7 5 1 5 2 5 11 5-30 5 27 5 15 5-5 5 7 5-27 5 4 5 40 5-27 5-4 5 15 5-36 5 15 5 12 5-10 5 32 5-21 5 9 5-32 5 16 5 0 5 11 5 0 5-9 5 11 5 30 5-40 5-13 5 36 5 5 5-25 5 15 5-59 5 48 5-13 5 46 5-39 5 31 5-40 5-2 5-6 5-13 5 11 5 32 5-52 5 31 5 20 5-18 5 5 5-4 5 3 5-49 5 67 5-23 5-19 5 5 5 2 5 16 5-37 5-3 5-1 5 43 5-37 5 20 5-26 5 21 5-9 5-5 5 37 5-22 5-21 5 66 5-67 5-6 5-10 5 65 5-29 5 2 5 15 5-20 5 12 5 18 5-29 5 11 5-13 5-2 5 26 5-18 5-7 5-45 5 20 5 3 5 14 5 7 5-5 5-7 5 10 5-1 5 11 5-56 5 58 5 18 5-17 5-33 5-11 5 17 5 29 5-23 5-48 5-28 5 73 5 45 5-84 5 19 5 13 5 6 5 11 5-53 5 35 5-16 5 31 5-11 5 15 5-50 5 2 5 8 5 5 5-6 5-12 5 14 5-22 5 55 5-31 5-17 5 31 5-38 5 42 5-15 5 45 5-25 5-28 5 36 5-16 5 12 5-79 5 56 5 0 5 38 5-50 5 31 5-11 5-25 5 18 5 23 5-15 5 1 5 3 5 4 5 5 5-8 5-29 5 27 5 7 5 33 5-55 5 54 5-44 5 45 5-76 5 38 5-43 5 19 5 22 5 19 5-25 5 21 5-21 5 50 5-44 5 53 5-3 5-56 5 31 5-20 5 40 5-23 5 32 5-41 5-2 5-9 5 20 5 6 5-6 5 5 5 10 5-16 5-11 5-6 5 10 5 5 5 28 5-1 5-33 5 28 5-30 5 36 5-48 5 52 5-22 5 9 5-6 5-18 5 24 5-1 5 15 5-2 5 13 5-12 5-33 5 38 5-38 5 11 5 16 5-17 5 9 5 28 5-30 5-5 5-7 5 81 5-63 5 10 5 1 5 21 5-31 5-6 5 11 5-7 5-12 5-8 5 38 5-9 5 36 5-36 5 3 5 31 5-55 5 48 5-30 5-6 5 29 5-4 5-23 5 26 5 25 5-13 5-13 5-12 5 9 5 11 5-12 5 13 5 10 5-46 5 32 5 6 5-14 5-6 5 40 5-29 5 1 5-8 5 4 5 1 5 4 5-25 5-2 5 19 5 5 5-4 5 25 5-14 5 14 5-8 5-45 5 50 5 19 5-24 5-3 5-20 5 26 5-23 5-12 5 36 5 12 5-20 5 2 5-9 5 42 5-22 5-12 5 1 5 8 5 18 5-29 5-6 5 22 5-7 5-24 5 24 5-2 5-2 5 11 5 2 5 26 5-18 5 4 5-23 5 9 5-12 5 0 5 28 5 24 5-26 5-5 5 3 5 5 5-15 5 1 5 12 5 18 5-26 5-30 5 43 5-10 5-17 5 0 5-41 5 43 5 10 5 13 5-9 5-16 5 10 5 9 5 10 5-5 5 10 5-48 5 38 5 2 5-21 5 20 5-12 5-12 5-1 5 32 5 2 5 9 5-6 5-4 5-26 5 15 5 0 5 39 5-49 5-6 5 5 5 35 5-28 5 24 5-21 5 27 5-44 5 19 5 18 5-14 5-11 5 40 5-48 5 9 5 34 5 10 5-29 5-21 5-1 5 8 5 13 5 24 5-7 5 1 5-25 5 21 5 1 5 1 5-15 5-6 5 25 5 8 5-30 5 10 5 12 5 8 5 4 5-30 5 21 5-41 5-17 5 30 5 13 5-31 5 23 5 5 5-3 5 5 5 14 5-23 5-3 5 17 5 8 5-25 5 30 5-10 5-19 5 6 5-13 5 25 5-10 5 32 5-77 5 23 5 12 5 18 5-15 5-6 5 19 5-14 5 11 5 11 5 1 5-42 5 14 5 19 5-10 5-10 5 23 5-8 5 6 5 7 5-21 5 23 5-14 5 2 5 13 5-44 5-1 5 8 5 34 5-12 5-12 5-8 5-11 5 34 5-6 5 7 5 9 5-10 5 17 5-29 5 32 5-18 5-16 5 12 5 33 5-57 5 11 5 3 5 10 5-2 5 30 5-34 5 14 5-19 5-10 5 16 5-2 5 15 5 11 5-29 5 25 5-34 5 45 5-53 5 16 5 13 5-11 5-12 5 30 5-28 5 32 5-40 5 42 5-4 5-5 5 9 5-21 5 3 5 20 5-36 5 12 5 1 5 0 5-1 5-36 5 40 5 5 5 16 5-7 5-23 5 5 5-11 5 10 5-4 5 28 5-12 5 4 5-16 5 3 5 11 5-21 5 22 5 5 5-23 5 9 5-14 5 41 5-19 5 10 5-21 5-11 5 13 5 24 5 4 5-13 5-13 5 7 5 11 5-35 5 32 5-28 5 18 5 7 5-7 5-3 5 20 5-28 5 1 5-10 5 19 5 9 5-14 5-30 5 39 5 3 5-24 5 10 5 4 5-13 5 17 5-3 5-20 5-26 5 30 5 38 5-3 5-25 5-12 5 41 5-12 5 9 5 10 5-24 5-5 5-14 5 15 5-19 5 34 5-21 5 29 5-31 5 13 5-20 5 27 5-28 5 35 5-12 5-39 5 7 5 27 5-5 5 34 5-48 5 11 5 4 5 4 5 24 5-29 5-25 5 52 5-19 5-31 5 13 5 6 5 7 5 11 5-17 5-4 5-8 5 14 5 4 5 6 5-43 5 21 5 22 5 20 5-13 5-52 5 6 5 41 5-9 5 1 5 31 5-50 5 38 5-18 5-12 5-24 5 15 5 44 5-23 5 11 5-3 5-12 5 16 5-8 5-8 5-2 5-7 5 17 5-7 5 21 5-23 5-9 5-16 5 43 5 29 5-41 5-35 5 51 5-26 5 23 5-5 5 6 5-10 5-6 5 22 5-21 5 24 5-29 5 13 5-15 5 28 5-26 5-2 5 29 5-10 5-6 5-15 5 16 5 7 5 5 5-22 5 20 5-39 5 32 5-15 5 26 5-18 5 44 5-34 5 3 5-41 5 14 5 39 5-27 5 29 5-29 5 21 5-22 5 20 5 4 5 4 5-26 5-8 5 29 5-5 5 8 5-30 5 31 5-14 5-14 5 10 5 22 5-11 5 0 5-1 5-7 5 25 5-18 5-23 5 0 5 15 5 3 5 17 5-52 5 53 5 7 5-26 5 28 5-30 5 8 5-5 5 33 5-6 5-1 5-35 5 20 5-19 5 20 5 7 5 13 5-23 5 6 5-6 5-14 5 43 5-20 5 17 5-9 5-33 5 11 5 20 5 3 5-2 5-10 5 13 5-28 5 11 5-13 5 33 5-9 5 5 5-14 5-36 5 28 5 15 5-1 5 13 5 4 5-26 5 21 5-39 5 38 5-43 5 41 5-43 5 43 5 17 5-27 5 14 5 7 5-59 5 12 5 31 5-17 5 11 5 48 5-13 5-18 5-20 5 19 5-3 5-7 5 28 5-55 5 54 5-30 5 27 5-22 5-7 5-1 5 15 5 1 5 42 5-22 5-25 5-18 5 21 5 8 5-35 5 26 5 20 5-26 5-18 5 37 5 14 5-28 5 6 5 16 5-10 5-18 5 5 5 5 5 1 5 18 5-33 5 22 5-8 5-29 5 43 5-9 5-21 5-8 5 42 5 12 5-24 5-5 5 15 5-21 5 2 5 23 5-32 5 35 5-12 5 15 5-48 5 48 5-21 5 11 5-22 5-3 5 34 5-11 5 2 5 2 5-1 5-34 5 20 5-1 5 36 5-10 5-34 5-9 5 34 5-2 5 12 5-39 5 43 5-22 5 17 5-15 5-11 5-6 5 33 5-69 5 65 5-6 5-21 5 22 5-13 5-18 5 15 5 14 5-9 5-12 5 22 5 1 5 7 5-15 5 20 5-34 5 4 5-15 5 21 5 2 5-1 5-19 5 34 5-41 5 12 5-31 5 61 5-4 5-15 5 8 5-24 5 3 5 1 5 20 5-11 5 9 5-19 5-4 5 27 5-2 5 2 5-16 5 14 5-28 5 7 5 22 5-19 5-5 5 5 5 39 5-31 5 11 5-7 5 39 5-38 5 18 5-2 5-8 5-6 5-23 5 32 5 24 5-25 5 23 5-20 5 4 5-22 5 6 5 9 5 10 5-33 5-6 5 20 5 0 5 9 5 19 5-34 5 37 5-20 5-8 5-26 5 48 5 4 5-19 5 0 5-14 5-23 5 18 5-10 5 1 5 8 5 4 5 16 5 12 5-23 5 16 5-18 5 1 5 10 5-15 5 14 5-12 5-5 5 3 5 33 5-19 5-11 5 10 5-14 5 4 5 2 5-20 5 23 5 9 5-3 5-6 5 18 5-28 5 29 5-2 5-12 5 20 5-34 5 15 5-6 5-9 5 7 5 11 5 0 5 3 5-19 5 9 5-1 5-8 5 10 5-31 5 14 5 10 5 2 5 15 5-18 5 33 5-46 5 49 5-41 5-3 5 6 5 2 5 4 5-2 5 13 5 5 5-27 5 34 5-14 5-4 5 12 5-13 5 22 5-38 5 35 5-25 5 18 5-17 5 31 5-19 5 5 5-26 5-6 5 25 5 19 5-20 5-24 5 46 5-32 5 19 5-24 5 2 5 15 5-43 5 24 5 8 5 0 5-18 5 40 5-20 5 1 5-25 5 26 5 11 5 2 5-3 5-10 5-3 5 6 5 7 5-13 5 0 5 9 5-9 5 7 5-2 5-15 5 35 5-12 5-23 5-1 5 7 5-2 5-6 5 18 5-8 5-9 5 35 5-27 5 10 5-24 5 3 5 1 5 28 5-3 5-14 5-1 5 9 5-17 5 9 5 17 5-27 5 23 5-11 5 4 5-5 5 14 5 1 5-5 5-32 5 26 5 15 5-32 5-8 5 19 5 15 5-30 5 23 5-9 5 4 5 6 5-8 5-6 5 11 5 19 5-13 5 1 5-23 5 5 5-11 5 32 5 1 5-8 5 5 5-17 5 0 5 23 5-23 5 20 5 10 5-41 5 4 5 37 5-10 5 8 5 2 5-29 5 34 5-9 5-6 5-10 5-10 5-6 5-10 5 9 5 1 5 14 5-13 5-16 5 29 5-33 5 25 5 15 5-33 5 5 5 17 5 20 5-21 5-5 5 10 5-29 5 3 5 32 5 2 5-3 5-7 5 5 5-33 5 10 5 10 5 20 5-11 5-3 5-17 5 19 5 3 5 3 5-10 5 32 5-47 5 30 5-32 5 0 5 29 5-16 5-6 5 12 5 37 5-46 5 4 5 23 5-27 5 44 5-54 5 15 5 18 5-18 5-4 5-14 5 19 5 15 5-17 5-11 5 35 5-8 5-4 5-12 5-9 5 30 5-16 5-7 5 3 5 8 5 7 5-13 5-5 5-12 5 13 5 1 5 8 5-5 5-8 5 6 5 11 5-11 5-1 5-2 5-1 5 10 5 3 5-13 5 1 5 8 5 5 5 9 5-41 5 32 5-21 5 16 5 4 5 13 5-36 5 22 5-52 5 36 5-34 5 21 5-7 5-5 5 21 5-18 5-1 5 4 5 4 5 15 5-15 5-9 5-12 5 34 5-5 5 4 5-20 5 28 5-11 5 26 5-42 5 18 5 12 5-30 5 3 5-8 5 2 5 17 5-10 5-21 5 55 5-51 5 29 5-18 5 9 5-2 5 3 5-1 5 14 5-39 5-11 5-6 5-7 5 40 5-37 5 1 5 30 5-10 5 6 5-46 5 22 5-5 5 24 5 0 5 6 5 13 5 37 5-67 5 20 5 3 5-17 5-15 5 30 5 0 5-6 5-22 5-26 5 20 5 36 5 0 5-38 5 21 5 17 5 0 5-38 5 12 5 1 5-18 5 48 5-60 5 37 5 10 5-10 5 5 5-51 5 39 5 4 5 0 5-27 5 19 5-10 5 38 5-34 5 9 5 0 5 0 5 32 5-3 5-18 5-11 5-1 5-23 5 33 5 4 5-7 5-12 5 35 5-6 5-9 5 24 5-22 5 27 5-33 5 6 5-11 5 25 5-22 5 15 5-4 5-14 5 49 5-17 5-22 5 19 5-8 5-12 5 37 5-15 5-3 5-1 5 3 5 2 5-8 5 0 5-1 5-25 5 22 5 23 5 5 5-20 5-16 5 30 5-29 5-3 5-5 5-10 5 63 5-28 5-46 5 33 5-13 5 40 5-23 5-1 5 23 5 15 5-36 5 11 5-14 5 31 5-10 5-2 5-14 5 36 5-27 5 24 5 1 5-36 5 15 5 8 5-20 5 15 5 7 5-29 5 21 5 10 5-11 5-2 5-11 5 22 5 3 5-4 5 23 5-20 5-6 5 33 5-15 5 7 5 3 5-26 5-6 5 39 5-52 5 21 5 32 5-33 5 22 5-23 5 48 5-36 5 14 5-31 5 31 5 0 5-17 5 18 5-13 5 10 5-13 5 1 5-10 5 25 5-9 5-7 5 35 5-23 5-2 5-8 5 25 5-11 5-13 5 8 5 13 5-6 5 15 5-1 5 17 5-40 5 9 5-2 5 0 5 5 5-5 5 18 5-30 5 18 5 9 5 5 5-14 5 5 5-3 5 6 5-9 5 13 5 9 5 10 5-34 5 17 5-8 5 2 5-12 5 8 5 7 5-8 5-5 5 22 5-15 5-5 5 4 5-3 5-8 5 18 5-10 5-14 5 31 5-18 5-15 5 19 5-9 5 12 5-18 5 10 5-17 5 4 5 20 5-9 5 29 5-31 5 13 5-20 5 38 5-19 5-22 5 25 5-10 5 36 5-14 5-26 5 21 5-3 5-12 5 1 5 1 5-10 5 18 5-11 5 6 5-4 5-5 5 37 5-22 5 5 5 28 5-37 5-9 5-14 5 4 5 28 5-27 5-9 5 28 5-1 5 24 5-42 5 33 5-45 5 49 5-13 5-17 5 30 5-14 5 6 5-8 5 15 5-6 5-22 5 1 5 1 5 22 5-2 5-5 5-6 5-5 5 13 5 6 5 0 5 11 5 2 5-28 5 39 5-14 5-16 5 1 5 3 5-14 5-2 5 9 5-5 5-33 5 47 5-34 5 30 5-9 5-4 5 19 5-21 5-2 5 17 5-1 5-12 5-1 5 1 5 14 5 2 5 5 5-12 5-11 5 22 5 26 5-14 5-35 5 24 5-12 5 1 5-2 5-7 5-10 5 27 5-20 5 7 5 2 5 7 5-7 5 4 5-4 5 9 5 2 5 14 5-12 5-15 5 16 5 4 5-19 5 0 5-23 5 50 5-18 5 16 5-38 5-11 5 36 5-16 5 14 5-13 5 22 5-16 5 3 5 8 5-12 5 1 5 22 5-18 5 4 5 4 5-5 5 5 5 18 5-10 5-33 5-11 5 18 5-20 5-5 5 22 5 2 5 15 5 3 5 23 5-38 5 1 5 11 5 12 5-18 5-8 5-24 5 47 5-15 5 24 5 4 5 1 5-19 5 5 5-29 5 23 5-10 5 18 5-20 5 4 5-8 5 35 5-23 5-14 5 8 5-12 5 33 5 0 5-14 5 2 5-23 5 40 5-22 5 28 5-35 5 14 5 6 5-1 5-12 5 16 5-10 5-4 5-15 5 31 5-16 5 6 5-8 5 6 5-10 5 39 5-10 5-15 5-5 5 5 5-20 5 19 5-9 5-4 5-3 5 0 5 15 5-6 5-11 5 16 5-3 5-4 5 21 5-23 5-14 5 20 5-15 5 24 5-4 5-11 5 11 5-12 5-1 5-17 5-4 5 22 5 28 5-39 5 15 5-8 5 16 5-18 5 10 5 6 5-11 5 4 5-1 5 10 5 1 5 2 5-4 5-19 5 8 5 12 5-6 5 11 5-28 5 5 5 1 5 14 5-12 5-3 5 16 5-10 5-8 5 19 5-7 5 8 5 1 5-15 5 4 5 2 5 10 5-9 5 14 5-20 5 7 5 17 5-35 5 2 5 25 5 1 5 3 5-2 5 2 5-19 5 6 5 7 5-22 5-1 5 9 5 20 5-3 5-26 5 9 5 0 5 8 5 2 5-3 5-11 5 25 5 0 5-27 5 11 5 16 5-9 5 1 5-11 5 24 5-32 5 25 5 11 5-32 5 27 5-7 5-18 5 10 5 16 5-24 5 0 5-30 5 15 5 16 5 3 5 10 5 3 5 14 5-16 5 28 5-27 5 7 5-27 5 16 5 7 5 0 5-18 5 5 5-15 5 20 5-18 5 26 5-9 5 6 5-2 5-1 5 4 5-9 5-22 5 37 5-25 5 21 5-5 5-2 5-3 5 2 5-1 5-3 5-1 5 5 5 4 5-13 5 8 5-20 5 7 5-11 5 18 5 8 5 4 5-26 5 28 5-24 5 8 5-1 5 26 5-17 5 24 5-14 5-16 5 9 5 12 5-28 5 5 5 5 5-3 5 1 5 24 5-19 5-6 5-1 5-12 5 27 5-18 5 53 5-39 5-13 5-8 5 9 5 11 5-12 5 15 5 1 5-2 5 0 5-7 5-8 5-7 5-5 5 15 5 14 5-9 5-13 5 25 5-24 5-2 5 2 5 4 5 7 5-14 5-5 5 26 5-2 5 2 5 4 5-9 5 22 5-25 5 2 5 17 5-11 5-7 5 2 5-15 5 23 5-11 5 8 5 11 5-6 5-7 5 2 5-3 5 19 5-44 5 17 5-4 5 15 5-7 5 3 5 23 5-20 5 7 5-16 5-3 5-4 5 30 5-31 5 8 5 34 5-24 5-4 5-3 5-12 5 19 5 8 5-23 5 5 5 26 5-25 5 14 5 19 5-39 5 10 5-10 5-17 5 44 5-8 5-11 5 9 5-13 5-11 5 10 5-1 5-3 5 25 5-23 5-3 5 16 5 3 5 15 5-17 5-21 5 6 5 23 5-20 5 14 5 18 5-42 5 0 5 16 5 2 5 12 5-32 5 28 5-10 5-19 5 19 5 9 5 16 5-30 5 16 5-25 5 30 5-12 5 18 5-36 5 3 5-7 5 43 5-28 5-17 5 14 5 19 5-2 5-3 5-22 5 15 5-23 5 6 5 26 5 4 5-14 5-20 5 11 5 7 5 25 5-28 5-11 5 4 5 4 5 4 5 4 5 28 5-33 5-19 5 40 5-23 5 0 5 3 5 11 5-3 5 5 5-11 5 5 5-14 5 0 5 6 5 2 5-16 5 6 5 31 5-1 5 6 5-6 5-3 5 10 5-13 5-12 5 0 5 8 5 1 5-7 5-2 5 3 5-9 5 38 5-22 5-31 5 36 5-22 5 8 5 3 5 11 5-12 5 5 5-6 5 31 5-30 5-10 5-6 5 17 5-6 5 8 5 4 5-21 5 16 5-10 5 0 5-3 5 9 5-6 5 0 5 5 5-12 5 33 5-9 5-13 5 9 5-16 5 13 5-20 5 18 5 2 5-6 5 14 5-19 5 12 5 5 5 0 5-7 5 21 5-11 5-2 5-17 5 10 5-8 5 33 5-21 5-15 5 21 5 3 5-21 5 9 5 30 5-31 5 3 5 36 5-40 5-15 5 3 5 14 5 8 5-21 5-15 5 33 5-10 5-3 5-5 5 25 5-16 5-15 5 4 5 7 5-13 5 12 5 21 5-3 5 2 5-1 5-10 5 3 5-27 5 31 5-1 5-5 5 0 5-17 5 8 5-14 5 14 5 3 5-5 5 23 5-26 5 15 5-1 5-5 5 9 5-2 5-10 5 22 5-19 5 10 5-21 5 1 5 14 5 27 5-45 5 1 5 5 5 4 5 7 5 12 5-15 5 10 5-8 5-7 5 1 5 12 5-4 5 15 5-14 5-4 5-13 5 4 5 15 5-1 5 17 5-29 5 16 5-9 5-25 5 12 5 18 5-8 5-4 5 22 5-16 5 6 5 6 5-15 5 14 5-21 5-4 5 30 5 3 5-7 5-19 5 5 5-7 5-1 5 14 5-8 5 21 5-34 5 13 5-9 5-1 5 40 5-4 5-15 5 2 5 1 5-7 5-40 5 11 5 35 5-40 5 51 5-8 5-6 5 1 5 4 5-17 5 31 5-26 5-9 5 35 5-21 5 2 5 11 5 13 5-29 5 2 5-19 5 18 5 21 5-31 5-2 5-10 5 5 5 0 5 17 5 4 5-30 5 31 5 11 5-5 5-21 5 20 5-17 5-7 5-4 5-1 5 15 5 12 5-31 5-3 5 41 5-27 5 40 5-23 5-23 5 30 5 1 5-35 5 19 5 20 5-37 5 25 5-1 5 21 5-8 5-22 5-14 5 14 5 6 5-1 5-6 5-6 5 28 5-21 5-5 5 13 5-1 5-2 5 15 5-28 5 16 5 10 5-19 5 8 5 6 5-1 5-7 5-16 5 4 5 12 5-4 5 0 5-3 5-15 5 30 5-22 5 34 5 16 5-26 5-4 5-14 5-5 5 8 5 18 5-13 5-21 5 31 5-16 5 17 5-11 5-10 5 4 5 16 5-17 5 24 5-27 5 28 5-35 5 3 5 22 5 11 5-23 5 14 5-22 5-1 5 13 5 28 5-32 5-17 5-11 5 31 5 9 5-13 5 7 5-12 5 26 5-10 5-24 5 10 5 23 5-16 5-30 5 25 5-1 5-29 5 41 5 12 5-25 5-4 5 8 5-3 5 5 5 8 5-27 5 16 5 28 5-26 5 3 5 3 5-15 5-7 5 47 5-29 5-13 5 24 5-16 5-7 5 5 5-11 5 5 5 24 5-10 5-5 5 21 5-8 5-14 5-14 5 12 5 23 5-28 5 40 5-31 5-15 5 12 5 24 5-26 5 14 5 3 5-16 5 20 5 5 5-8 5-33 5 27 5 5 5 2 5 13 5-20 5-3 5-28 5 12 5 30 5-30 5 12 5-19 5 18 5-12 5 22 5-7 5 5 5-24 5 17 5 14 5-52 5 33 5 6 5 12 5-2 5 0 5-4 5 6 5-12 5 0 5-13 5 12 5-1 5 24 5-35 5 18 5-7 5 5 5 13 5-15 5-11 5 13 5 12 5-9 5 5 5-27 5 30 5-18 5-9 5 19 5-22 5 22 5 17 5-28 5-4 5 26 5-6 5 3 5-37 5 14 5 36 5-35 5 4 5 8 5 1 5-5 5-32 5 41 5-22 5 28 5 4 5-31 5 16 5 20 5 1 5-10 5-19 5 12 5-18 5 32 5-15 5 14 5-51 5 25 5 1 5 1 5-11 5 23 5-18 5 36 5-29 5-2 5-3 5 17 5-3 5-17 5-27 5 35 5-6 5 11 5-12 5 15 5-19 5 19 5-7 5 16 5-14 5 10"/>
<path stroke="#0000ff" d="M1743 11367l5-25 5 6 5 4 5-14 5 9 5-1 5-20 5 31 5-5 5-14 5 5 5 7 5-9 5 0 5-15 5 23 5-6 5 2 5-22 5 37 5-18 5-7 5 27 5-24 5-17 5 11 5-23 5 38 5-18 5-4 5 20 5-33 5 24 5-31 5 15 5-8 5 30 5 2 5-26 5 11 5-13 5 6 5-18 5-15 5-4 5 21 5 18 5-28 5-14 5 23 5-26 5-9 5-6 5-14 5-13 5-26 5 8 5-24 5-6 5-44 5-49 5-17 5-27 5-84 5-82 5-102 5-122 5-144 5-189 5-152 5-168 5-54 5 73 5 146 5 163 5 184 5 156 5 112 5 79 5 103 5 62 5 41 5 22 5 38 5 20 5 23 5 35 5 16 5 2 5 9 5 10 5 1 5 8 5 2 5 18 5 38 5-4 5-3 5 8 5 2 5 17 5-1 5-26 5 17 5-19 5 17 5-20 5 16 5-27 5 1 5 7 5 10 5-5 5-20 5 17 5-1 5-4 5-2 5 28 5-24 5-4 5 17 5-5 5-2 5 11 5-3 5-1 5 7 5-7 5-10 5 3 5-1 5 9 5-15 5-8 5 22 5-16 5-7 5 27 5-12 5 14 5-12 5-8 5-3 5 5 5-1 5-11 5 1 5-20 5 12 5-27 5 13 5 5 5-1 5 3 5-42 5 24 5 3 5-4 5-22 5 15 5 17 5-39 5 23 5 7 5-21 5 14 5-19 5 3 5-1 5 12 5-4 5 12 5-23 5 9 5 12 5-5 5-22 5 22 5-14 5 10 5-2 5 10 5-13 5-24 5 5 5 24 5-12 5 16 5-10 5-13 5 21 5-22 5-15 5 48 5-46 5 30 5 3 5-9 5-21 5 32 5-28 5 1 5 12 5 14 5-5 5 7 5-14 5 4 5-10 5 10 5 12 5-10 5 10 5-11 5 0 5 8 5-2 5 10 5-4 5 19 5-22 5 1 5-8 5 13 5 9 5-15 5 10 5 10 5-8 5-2 5 19 5-8 5 5 5 12 5 2 5-15 5 0 5 12 5-3 5-18 5 40 5-13 5 11 5-19 5 31 5-20 5 8 5-12 5 16 5 2 5 3 5 9 5-2 5 12 5-14 5-5 5 13 5 9 5 9 5-4 5-29 5 26 5 14 5-16 5-6 5 10 5-10 5 14 5-8 5 17 5-11 5-14 5 16 5 4 5-18 5 2 5-22 5 38 5-17 5-18 5 4 5 18 5 12 5-10 5 6 5-18 5-2 5 25 5-4 5-6 5 15 5-25 5 6 5 17 5 9 5-21 5 19 5-26 5 11 5-6 5-16 5 21 5 8 5-12 5 1 5 17 5-31 5-2 5 10 5-7 5 30 5-12 5-14 5 3 5 41 5-41 5-1 5 12 5 4 5-5 5-13 5-3 5 21 5-8 5-18 5 33 5-5 5-12 5 0 5 6 5-11 5-7 5 19 5-20 5 21 5-21 5 15 5 0 5 22 5-33 5-4 5 9 5-5 5 6 5 12 5 4 5 10 5-27 5 39 5-8 5-25 5-24 5 25 5 2 5-27 5 27 5-3 5-6 5 16 5 4 5-17 5 9 5-11 5-1 5 10 5 5 5-12 5-19 5 32 5-25 5 20 5 19 5-21 5-13 5-3 5 30 5-13 5 6 5 5 5-12 5-3 5-7 5-25 5 18 5 17 5-1 5 7 5-6 5 3 5 7 5-19 5 7 5-15 5 30 5-11 5 5 5 13 5-6 5-13 5 10 5-26 5 22 5-3 5-21 5 35 5-24 5 16 5-13 5 17 5 4 5-25 5-8 5 16 5 11 5-14 5-2 5 12 5-37 5 24 5-8 5 19 5-12 5-4 5 9 5-13 5 17 5-8 5 4 5-4 5 19 5-12 5 8 5-1 5-15 5 16 5-2 5-1 5-8 5 0 5 14 5 16 5-35 5 16 5-10 5 13 5-4 5 7 5-44 5 25 5-4 5 10 5-7 5 1 5 15 5 14 5-55 5 30 5 7 5-4 5-4 5-12 5 5 5 19 5 4 5-11 5-11 5 11 5-4 5 9 5-5 5-8 5 9 5-16 5 23 5 4 5-27 5 18 5-16 5 24 5-2 5-13 5 14 5-17 5-2 5 1 5 5 5-2 5 5 5-9 5 16 5 3 5-18 5-10 5 24 5 5 5-15 5-13 5 18 5 15 5-40 5 27 5-9 5-6 5 16 5-21 5 18 5 12 5-13 5-13 5-10 5 6 5-7 5 40 5-21 5-10 5-3 5 3 5 8 5-11 5 35 5-28 5-1 5 13 5 13 5-2 5-21 5 9 5-1 5 4 5-3 5-14 5-4 5 17 5-16 5 30 5-16 5-12 5 8 5-2 5 4 5 13 5-28 5-5 5 25 5-6 5 4 5 4 5-8 5 12 5-20 5 11 5-10 5-4 5 20 5 0 5-29 5 9 5 16 5 9 5-20 5 6 5-15 5 46 5-24 5 5 5-3 5 4 5-4 5-11 5 12 5-8 5 15 5-24 5 2 5 14 5 7 5-13 5-10 5 7 5-5 5 28 5-11 5 4 5-11 5-10 5 20 5 5 5-12 5-7 5 12 5-17 5 14 5-18 5-3 5 18 5-3 5 19 5-26 5 4 5-14 5-8 5 1 5 26 5-20 5 27 5 3 5-19 5 22 5-17 5 11 5-16 5 14 5-22 5 18 5-13 5 4 5 9 5-6 5-3 5 10 5 0 5-25 5 22 5 2 5-17 5 13 5-20 5 32 5-19 5 2 5 14 5-15 5 8 5-19 5 5 5-9 5 13 5 15 5-10 5 8 5-23 5 2 5 5 5 12 5-3 5-4 5 7 5-9 5 1 5 15 5-22 5 9 5 16 5-17 5 7 5-16 5 30 5-49 5 12 5 1 5 31 5-15 5-8 5-12 5 19 5-3 5-10 5-9 5 4 5 15 5 0 5-3 5-3 5-19 5 20 5-13 5 12 5 4 5-14 5-5 5 22 5-8 5-13 5-28 5 32 5 7 5 4 5-23 5-2 5 0 5 12 5-27 5 9 5-14 5 9 5-28 5 16 5-19 5-7 5-4 5-9 5-53 5 6 5-38 5-53 5-37 5-89 5-85 5-141 5-131 5-76 5-17 5 44 5 120 5 111 5 101 5 101 5 87 5 12 5 54 5 13 5 47 5 27 5-10 5 21 5 30 5-9 5-6 5 4 5-3 5 36 5-14 5 24 5 1 5-16 5 4 5 17 5-6 5 3 5-21 5 31 5-20 5-15 5 20 5 13 5 20 5-28 5-10 5 40 5-22 5-4 5-9 5 1 5 29 5-20 5-3 5 1 5 24 5-24 5 14 5-4 5 0 5-13 5 18 5 11 5-19 5-10 5-4 5 17 5-5 5 2 5 2 5-18 5 27 5-7 5-3 5 4 5 8 5-10 5-11 5 24 5-19 5-3 5-10 5 18 5-12 5 6 5 12 5-5 5 11 5-8 5-8 5 1 5-2 5 13 5-7 5-5 5 15 5-9 5-7 5-12 5 23 5-2 5-3 5-5 5-5 5 7 5 6 5-5 5 0 5-4 5 10 5-1 5-12 5 18 5 0 5 0 5-11 5 0 5-12 5 23 5-34 5 20 5 1 5 14 5-10 5-11 5-6 5 8 5 10 5-1 5-3 5-5 5 5 5 14 5-24 5 13 5 18 5-12 5-12 5 13 5-16 5 9 5 17 5 4 5-41 5 28 5 14 5-29 5 9 5 15 5-23 5 11 5-6 5-22 5 26 5-6 5 13 5 14 5-17 5-12 5 10 5-3 5 9 5-28 5 3 5-10 5 31 5-8 5-7 5-1 5 2 5-4 5 7 5-2 5 22 5-13 5-13 5 3 5 21 5-9 5-2 5 5 5 10 5-32 5 5 5-11 5 26 5-11 5-3 5-1 5 17 5-10 5-4 5 20 5-26 5-3 5 45 5-34 5-2 5-2 5 6 5 11 5 0 5-3 5-9 5-14 5 20 5 15 5-6 5-14 5 11 5-13 5 3 5-13 5 10 5 6 5-4 5 11 5 13 5-7 5-18 5-5 5 1 5-4 5 12 5 4 5-3 5 0 5 0 5-3 5-7 5 28 5-8 5-22 5 0 5 3 5 8 5 14 5-3 5 1 5 0 5 0 5-4 5-4 5-6 5-19 5 19 5 22 5-27 5-1 5 19 5-11 5-6 5 23 5-11 5 2 5-15 5 12 5-1 5 4 5 5 5-1 5-11 5 6 5-21 5 21 5 0 5-12 5-5 5 9 5-14 5 18 5 0 5-15 5 12 5 12 5 0 5-1 5-14 5-2 5 0 5 11 5 20 5-11 5 3 5-3 5-35 5 17 5-3 5 20 5 5 5-28 5 9 5 6 5-13 5-1 5-1 5 18 5-21 5 24 5-12 5 8 5 9 5-26 5-2 5 15 5-17 5 3 5 8 5 3 5-17 5 10 5 12 5 8 5-38 5 38 5-5 5-23 5-4 5 21 5-9 5 6 5 9 5-15 5 6 5 4 5 5 5 10 5-1 5-17 5-5 5 30 5-20 5-3 5-17 5 21 5-18 5 4 5-10 5 9 5 7 5-18 5 7 5 9 5-14 5 0 5 5 5-7 5 24 5-19 5 20 5 2 5-24 5 14 5-6 5-8 5 9 5 1 5 11 5 4 5-25 5 8 5 11 5 7 5-42 5 43 5-16 5 19 5-23 5-4 5 10 5 13 5-14 5-27 5 35 5-27 5 7 5-2 5-8 5 7 5 3 5 4 5 6 5-3 5-14 5 15 5 14 5-1 5-9 5 5 5 3 5 5 5 4 5-24 5 1 5 20 5 1 5-1 5-45 5 24 5-35 5 46 5-8 5 0 5-3 5 17 5-19 5 15 5-6 5-3 5 1 5-4 5-14 5 20 5 0 5-10 5 9 5 2 5-26 5 13 5-4 5-6 5 14 5-14 5 4 5 7 5 1 5-1 5 21 5-32 5 8 5-18 5 19 5 7 5-1 5-22 5 3 5 17 5-17 5 11 5-24 5 26 5-6 5-8 5-16 5 6 5 1 5 0 5-7 5-3 5 2 5 11 5-42 5 5 5-5 5 7 5-16 5 23 5-9 5-8 5-9 5 5 5-4 5-3 5-17 5 10 5-29 5 26 5-56 5 24 5-13 5 18 5-31 5 33 5-43 5 38 5-21 5-7 5 3 5 19 5-15 5-36 5 40 5-11 5-22 5 28 5-23 5 16 5 0 5-10 5 15 5-18 5 21 5 3 5 20 5 43 5-2 5 5 5 29 5 7 5 21 5 11 5 6 5 5 5-4 5 14 5 9 5-19 5 7 5 1 5 13 5-2 5-23 5 7 5-21 5 3 5 7 5 3 5-1 5-18 5-14 5 19 5-6 5 8 5-2 5 7 5-1 5 0 5-18 5 12 5-24 5 0 5 13 5-24 5-24 5 25 5-9 5-1 5-11 5 4 5-3 5-1 5 32 5-15 5 6 5 8 5 33 5-5 5-10 5 8 5 10 5 7 5-27 5 30 5-12 5-6 5 4 5 13 5 10 5-19 5 3 5-17 5 14 5 2 5-28 5 9 5 13 5-32 5 14 5 9 5-30 5 11 5 2 5 5 5-30 5 22 5-16 5 3 5-9 5-20 5-10 5-40 5-13 5-18 5-19 5-18 5-75 5-40 5-87 5-108 5-111 5-222 5-260 5-335 5-291 5-41 5 278 5 300 5 283 5 240 5 150 5 102 5 84 5 65 5 44 5 43 5 14 5 21 5 28 5 11 5 21 5-6 5 9 5-5 5 36 5-29 5 22 5-10 5 16 5 6 5-27 5 17 5-18 5 35 5-23 5-15 5 7 5 19 5-3 5-8 5-32 5-2 5 9 5-42 5-14 5-30 5-33 5-12 5-60 5-76 5-102 5-142 5-203 5-289 5-279 5-134 5 152 5 257 5 261 5 223 5 152 5 114 5 77 5 34 5 40 5 37 5 14 5 32 5 23 5 8 5-9 5 14 5 37 5-20 5 26 5 4 5-7 5-4 5 18 5-10 5 11 5 6 5-8 5 8 5 1 5-9 5 14 5-4 5-13 5 19 5 1 5-2 5-16 5 34 5-1 5 1 5-3 5-18 5 17 5-12 5 37 5-31 5 14 5-25 5 5 5 8 5 14 5-1 5-3 5-24 5 35 5-24 5 30 5 3 5-12 5 2 5-25 5 44 5-27 5 10 5-22 5 10 5-13 5 11 5 3 5 3 5 13 5-10 5-3 5-2 5 23 5-30 5 21 5-36 5 12 5 15 5-6 5 37 5-5 5-48 5 6 5 11 5 22 5-7 5-10 5-20 5 7 5-21 5 13 5 23 5 4 5-24 5 17 5 17 5-17 5-5 5 11 5-1 5-5 5-7 5 1 5 6 5-7 5 22 5-5 5 2 5 11 5-5 5-2 5-12 5-7 5 29 5-34 5 1 5-3 5 12 5 3 5 7 5-15 5-17 5 24 5 8 5-11 5-2 5 8 5 10 5-17 5-16 5 10 5 5 5-19 5 30 5-18 5 15 5-4 5-6 5 23 5-26 5-1 5 11 5 7 5-10 5-11 5 19 5-1 5 17 5-26 5 5 5-9 5-11 5 18 5 9 5-21 5 4 5-6 5 29 5-23 5 14 5-16 5 11 5-9 5-20 5 29 5 5 5-30 5 22 5-3 5-8 5 10 5-20 5 26 5 11 5-29 5 14 5 18 5-16 5-7 5-4 5 12 5-3 5 8 5-24 5 30 5-17 5 12 5-16 5-7 5 9 5-5 5 7 5 12 5 5 5-10 5-9 5 1 5 12 5 7 5-17 5 2 5-7 5 11 5 9 5-45 5 36 5-9 5-21 5 31 5-5 5 6 5-20 5 40 5-23 5-6 5 22 5-10 5 2 5 4 5-38 5 43 5-23 5 7 5 8 5-19 5 11 5 6 5-10 5 6 5-24 5 4 5 1 5 17 5 39 5-41 5-5 5 1 5 12 5-4 5-22 5 25 5-13 5 9 5-34 5 4 5 23 5-32 5 21 5-9 5-14 5-15 5-24 5-27 5-45 5-34 5-3 5-53 5-25 5-5 5 3 5 39 5 30 5 50 5 10 5 8 5 36 5 20 5 18 5-25 5-34 5-1 5-14 5 12 5 1 5 7 5 42 5 14 5 11 5 18 5 29 5-16 5-2 5 17 5-27 5 29 5-17 5 0 5 11 5 18 5-28 5 20 5-6 5-20 5 27 5-20 5-8 5 8 5 1 5 16 5-16 5 26 5-14 5-11 5-1 5 12 5-26 5-2 5 15 5 18 5-5 5-2 5-3 5-22 5 21 5-17 5 31 5-10 5-1 5 6 5-1 5-1 5 1 5-11 5-8 5 19 5 13 5-5 5-14 5 10 5-13 5 10 5-11 5 8 5 22 5-14 5 8 5-26 5 1 5 7 5 7 5-9 5 15 5-19 5 23 5-5 5-24 5 20 5-10 5 15 5-18 5 10 5 2 5-38 5 10 5 24 5-3 5 13 5-9 5-17 5 18 5-12 5 6 5-4 5 10 5-20 5 3 5-12 5 50 5-36 5 1 5-3 5 6 5 2 5 13 5-5 5 1 5-10 5 6 5 15 5-15 5 4 5-27 5 30 5-3 5 12 5-47 5 32 5-2 5 3 5-9 5 10 5 6 5-8 5-4 5 1 5-2 5 5 5-9 5-14 5 39 5-37 5 19 5-13 5 12 5-8 5 10 5-9 5-5 5 18 5 12 5-11 5-3 5-13 5 11 5 6 5-13 5 18 5-11 5 5 5-10 5 0 5 9 5 1 5 0 5-16 5 3 5 9 5-22 5 34 5-8 5-3 5-9 5 18 5-13 5 25 5-17 5-22 5 26 5-15 5 0 5 3 5 2 5 4 5 6 5-4 5-13 5-7 5 6 5 13 5 6 5 11 5-36 5 16 5-3 5-2 5 6 5-5 5 0 5-4 5 12 5 8 5 6 5-25 5-6 5 9 5-6 5 21 5-21 5 10 5-16 5 12 5 6 5 15 5-25 5 12 5-28 5 10 5 4 5 4 5 11 5 2 5-26 5 25 5-19 5 34 5-18 5-1 5-4 5 1 5 1 5-8 5 16 5-5 5 6 5-10 5 9 5-17 5 50 5-49 5 3 5 16 5 3 5-23 5-10 5 3 5 5 5 2 5 7 5 14 5 1 5-20 5 13 5 4 5 6 5-18 5-6 5 17 5 9 5-24 5 29 5-3 5-23 5-15 5 11 5 3 5 10 5-25 5 48 5-1 5-36 5-13 5 19 5 7 5 11 5-7 5-11 5-20 5 28 5 4 5-13 5 7 5-1 5-5 5-11 5 18 5-21 5 33 5-27 5 16 5-14 5 13 5-7 5 9 5-16 5-9 5 15 5 0 5-14 5 10 5-12 5 21 5-6 5 5 5 30 5-28 5 2 5 3 5-9 5-5 5 17 5 2 5-46 5 32 5-2 5-3 5 21 5-20 5 16 5-16 5 1 5 13 5-17 5 7 5-11 5 3 5 19 5-1 5-20 5 1 5 44 5-35 5 0 5 19 5-11 5 9 5 19 5 5 5-11 5 20 5-16 5-1 5 1 5-6 5 6 5-7 5-17 5 7 5-12 5-4 5 3 5 11 5-12 5 8 5-3 5-30 5-25 5-29 5-19 5-23 5-10 5-32 5 48 5 33 5 46 5-1 5 15 5-8 5 14 5-1 5 2 5 2 5-7 5 17 5 6 5 4 5-9 5 13 5 0 5-29 5 14 5-11 5 3 5 14 5-4 5 19 5 7 5-19 5-7 5 0 5 2 5 7 5-15 5 15 5-10 5 15 5 4 5 4 5-22 5-13 5-4 5 16 5-13 5-3 5 15 5-7 5 20 5 14 5-25 5 6 5-22 5 21 5-10 5-5 5-9 5 40 5-37 5 5 5 14 5 3 5 0 5-2 5-11 5 19 5-7 5-19 5 36 5-23 5 15 5-28 5 3 5 8 5-2 5 20 5-31 5 21 5-13 5 17 5-3 5-9 5 32 5-26 5 13 5-28 5 14 5 2 5 1 5-5 5-6 5-26 5 29 5-4 5 8 5 13 5 15 5-19 5 6 5-5 5 1 5-1 5-10 5-1 5 8 5 17 5-12 5 10 5-34 5 18 5 2 5 1 5-22 5-5 5-3 5 20 5 31 5-24 5-17 5 18 5-7 5 5 5-7 5-10 5 9 5 15 5-5 5 11 5-27 5 25 5-12 5 2 5 12 5-16 5 5 5 4 5 0 5 2 5 6 5-9 5-11 5 33 5-28 5 4 5-13 5-16 5 16 5 10 5 5 5-5 5 8 5 3 5 0 5-12 5 1 5-3 5-8 5 27 5-31 5 14 5 3 5-27 5 33 5-13 5 7 5-6 5-14 5 20 5-1 5 10 5-6 5-25 5 32 5-3 5 0 5-4 5-13 5 14 5-10 5 37 5-36 5-10 5 9 5 21 5-24 5-21 5 45 5-13 5-10 5 14 5-19 5-3 5 25 5-17 5 12 5-6 5 10 5-9 5-25 5 32 5-13 5 15 5-9 5 16 5-20 5-21 5 20 5 10 5-10 5-1 5 22 5-18 5 13 5-10 5-18 5 5 5 8 5 7 5-13 5-7 5 5 5 5 5-4 5 4 5 28 5-18 5-13 5 9 5 19 5-11 5-9 5-14 5-4 5 16 5 2 5-17 5 3 5 15 5-25 5 6 5 19 5 7 5-3 5 8 5 7 5-8 5-13 5 27 5-5 5-8 5-21 5 15 5-29 5 20 5-25 5 24 5 17 5-12 5 19 5-19 5 1 5-4 5 9 5-6 5 14 5 5 5-14 5-18 5 20 5 9 5-8 5-4 5 7 5 5 5-46 5 48 5-9 5-3 5-12 5 9 5 5 5-25 5 26 5-8 5 17 5-10 5-9 5 2 5 7 5-6 5 5 5-15 5-6 5 8 5-10 5 8 5 13 5-23 5 5 5 22 5-14 5 6 5-14 5 2 5 8 5 23 5-14 5-24 5 24 5 6 5-3 5-22 5 13 5 26 5-36 5 15 5-13 5-6 5 10 5 17 5 2 5-24 5 5 5-5 5-14 5 31 5 11 5 0 5-23 5 21 5-3 5-17 5 4 5-4 5 7 5 18 5-31 5-3 5 24 5-10 5-22 5 10 5 2 5 3 5 10 5 8 5-13 5 3 5-10 5 21 5 3 5-18 5-6 5 33 5-13 5-22 5-9 5 16 5 18 5-20 5 3 5-3 5 14 5 8 5-31 5 12 5 1 5-5 5-7 5 24 5-8 5 6 5 10 5-22 5 10 5-10 5 3 5 5 5-6 5-15 5 35 5-16 5-15 5-12 5 25 5 8 5 4 5 1 5-17 5 12 5-25 5 19 5 9 5-18 5 6 5 3 5 0 5 16 5-30 5 28 5-30 5 7 5-1 5 8 5-5 5 11 5-5 5 25 5-21 5-7 5 7 5 3 5-9 5-11 5 3 5 12 5 8 5-5 5-6 5 7 5-12 5 9 5 13 5-3 5 3 5-20 5 6 5-14 5 23 5-16 5-10 5 9 5 9 5-29 5 10 5 28 5-11 5-1 5-19 5 38 5-7 5-4 5-21 5 20 5 6 5-17 5 1 5-2 5 12 5-9 5-1 5-14 5-2 5 30 5 8 5-9 5 7 5-23 5 6 5 5 5-7 5 22 5-35 5 9 5 2 5-4 5 18 5-33 5 37 5-3 5-7 5 13 5 11 5-25 5 6 5-4 5 2 5-12 5-3 5 16 5-13 5 17 5-2 5-14 5 9 5-3 5-3 5 15 5-13 5 3 5-25 5 29 5-24 5 13 5 23 5 2 5-25 5-10 5 19 5-9 5 8 5-19 5 28 5 5 5-34 5 7 5 1 5 17 5-31 5 25 5-5 5-7 5 18 5-31 5 7 5 6 5 18 5-12 5-6 5 15 5-11 5-2 5 4 5 8 5 27 5-44 5 16 5-5 5-1 5 20 5-8 5-1 5-13 5-5 5 13 5-6 5-4 5 15 5-22 5 6 5 17 5-10 5 9 5-18 5 18 5-16 5 24 5-7 5-3 5 12 5-14 5-11 5 25 5-13 5 10 5-13 5 12 5-23 5-5 5-2 5 25 5-31 5 2 5 4 5 19 5 3 5-15 5 19 5-5 5 10 5-3 5-19 5 10 5-4 5 7 5-3 5-2 5 8 5-7 5 8 5-8 5-3 5 13 5 0 5 4 5-8 5-9 5 4 5 0 5-22 5 7 5 31 5-18 5-33 5 32 5 3 5-16 5 41 5-14 5-3 5-12 5 8 5 4 5-4 5-13 5 10 5-1 5 2 5-16 5 15 5-3 5 3 5 0 5-19 5 26 5-1 5-24 5 14 5-8 5 4 5 17 5-6 5 17 5-22 5-14 5 15 5-30 5 49 5-18 5 2 5-3 5-12 5 9 5-8 5 3 5 10 5-18 5 33 5-31 5 21 5-17 5-7 5 19 5-2 5-5 5 2 5-7 5 12 5-10 5 6 5 12 5-28 5 9 5-1 5-2 5-6 5 12 5 5 5-3 5-17 5 26 5 0 5-7 5-12 5 1 5 32 5-2 5-15 5-16 5 25 5-12 5 17 5-26 5 12 5-8 5 11 5-16 5 18 5-15 5-6 5 17 5-4 5-27 5 24 5 2 5 1 5 21 5-31 5 7 5-19 5 2 5 11 5 5 5-1 5 9 5 1 5 4 5-14 5 7 5-14 5 13 5 1 5-11 5-32 5 30 5 37 5-31 5-7 5 9 5 11 5-9 5-6 5-13 5 11 5-10 5 17 5 13 5-5 5-20 5-5 5-5 5 20 5 1 5 0 5-8 5-21 5-13 5 29 5-30 5 24 5-55 5 4 5-4 5 10 5 3 5-15 5 14 5-21 5 8 5-13 5-2 5-17 5-14 5 2 5-99 5-39 5-50 5-72 5-51 5-90 5-31 5-55 5 2 5-5 5 18 5 18 5 17 5 41 5 54 5 23 5 49 5 18 5 69 5 52 5 10 5 72 5 56 5-1 5 44 5 5 5 19 5-10 5-3 5 3 5 1 5-2 5 0 5 28 5-14 5 0 5 9 5 22 5-28 5 34 5 5 5 7 5-19 5-4 5 12 5 0 5 13 5-14 5-6 5-11 5 13 5 3 5 13 5-13 5 14 5-2 5-23 5-6 5 5 5 4 5-8 5 15 5-2 5 2 5-16 5-17 5-2 5-34 5-14 5-47 5-24 5-101 5-23 5-67 5-73 5-46 5-31 5 9 5 23 5 12 5 55 5 8 5 43 5 27 5 8 5 50 5 24 5 56 5 20 5 26 5 37 5 40 5 23 5 13 5-3 5 24 5-12 5 7 5 16 5-12 5-19 5 31 5-8 5-3 5 20 5-22 5 15 5-5 5 29 5-51 5 23 5 2 5 9 5-17 5-2 5 24 5-21 5 8 5-4 5 6 5-20 5 9 5 6 5 2 5 12 5-7 5 1 5-7 5 15 5-21 5 6 5-17 5 6 5 22 5-11 5-20 5 21 5-3 5-10 5 17 5-7 5 4 5 11 5-18 5 19 5-15 5 0 5 18 5-11 5-9 5 4 5 4 5-20 5 25 5-8 5-15 5 4 5 21 5-24 5 39 5-37 5 15 5-32 5 29 5-5 5 11 5-3 5-6 5 29 5-16 5-18 5 13 5-37 5 26 5 21 5-20 5 8 5-15 5 22 5-8 5-1 5 11 5 8 5-10 5-29 5 25 5-2 5-16 5-5 5 14 5 1 5 3 5-8 5 10 5 2 5-7 5 8 5-11 5-12 5 18 5 11 5 21 5-56 5 19 5-4 5 13 5-13 5 11 5 10 5-20 5 8 5 20 5-9 5-29 5 43 5-32 5 12 5-9 5 0 5-3 5 16 5-17 5-5 5 8 5 6 5-23 5 33 5-18 5 17 5 8 5-13 5 3 5-11 5-3 5-14 5 20 5-4 5-21 5 30 5 15 5-13 5 9 5-17 5-9 5 13 5-5 5-9 5 25 5-10 5-9 5 10 5-4 5 9 5 11 5-26 5-6 5 30 5 11 5-34 5-4 5-3 5 14 5 1 5-4 5 13 5-20 5 3 5-8 5 31 5-3 5 2 5-25 5 26 5-12 5 5 5-2 5-10 5 1 5-15 5 11 5 4 5-11 5 15 5 13 5-20 5-5 5 1 5 12 5 18 5-18 5-2 5-14 5 18 5 3 5-12 5 5 5-8 5 17 5 7 5-11 5 1 5-5 5-8 5-2 5 5 5 6 5-2 5 12 5-3 5 9 5-9 5-11 5 4 5-20 5 38 5-26 5 2 5 26 5-34 5 6 5 6 5-6 5 8 5 2 5 4 5-8 5 9 5-12 5 11 5 7 5-34 5 18 5 4 5-24 5-13 5 39 5-11 5 16 5-9 5 0 5-4 5 6 5-12 5 5 5 15 5-12 5 8 5-5 5-4 5-7 5 20 5-19 5 14 5-22 5 21 5 1 5-11 5-12 5 17 5 3 5-7 5-2 5 19 5-12 5-4 5 15 5-10 5-8 5 18 5-14 5 15 5-18 5 11 5 11 5-9 5 0 5 0 5 4 5-9 5 5 5-8 5 25 5-32 5 19 5-21 5 18 5 9 5-28 5 33 5-31 5 1 5 14 5-17 5 24 5-5 5-37 5 15 5 8 5 13 5-17 5 4 5 15 5-18 5 15 5-19 5 27 5 5 5-30 5-14 5 8 5 30 5-17 5 18 5-27 5 5 5 9 5 14 5-15 5-9 5 15 5-2 5 4 5-7 5-6 5 8 5-29 5 32 5 11 5-8 5-17 5-7 5 33 5-21 5 3 5 5 5-9 5 7 5 17 5-23 5 28 5-18 5 0 5 7 5 0 5 1 5-5 5-13 5 25 5-20 5-8 5 20 5-3 5-8 5 1 5 6 5 16 5-23 5-14 5 8 5 13 5-9 5-5 5 16 5 0 5-11 5 6 5-10 5 0 5 3 5-12 5 20 5-5 5-5 5 7 5 1 5-11 5 2 5-2 5 24 5-34 5 18 5 11 5-22 5 1 5 0 5-10 5 34 5-16 5-10 5 5 5 9 5-5 5-7 5 16 5-16 5 6 5 6 5-10 5 9 5-8 5 38 5-35 5 12 5-17 5-3 5 11 5-3 5 0 5 4 5 11 5 11 5 2 5-23 5 20 5-1 5-27 5 2 5 4 5 24 5-24 5-1 5 18 5-18 5 1 5 8 5-5 5-29 5 13 5 22 5-24 5 30 5-14 5 3 5 1 5-24 5 12 5-4 5 15 5 15 5-20 5 3 5-23 5 18 5 2 5 1 5 9 5 9 5-16 5 4 5-22 5 25 5-7 5-20 5 24 5-11 5 19 5-7 5-4 5 19 5-22 5-1 5 4 5 1 5-11 5 16 5-2 5-10 5-12 5 32 5 1 5-5 5 1 5 10 5-17 5 15 5-20 5-8 5 10 5-4 5 10 5 15 5-16 5 7 5 13 5-4 5-19 5-9 5 32 5-37 5-8 5-2 5 36 5-30 5 14 5 1 5 17 5-31 5 17 5 3 5 12 5-19 5 6 5-6 5 16 5-2 5-15 5 11 5-24 5 18 5-11 5 6 5 16 5 13 5-22 5-4 5-2 5 13 5-11 5 13 5 7 5-11 5-11 5 13 5-17 5-12 5 33 5 9 5-6 5-20 5-35 5 31 5 15 5-11 5 20 5-25 5 15 5-3 5 0 5-19 5 15 5 4 5-7 5-11 5 10 5-6 5 16 5 7 5-8 5 1 5-7 5 5 5-25 5 23 5 10 5-16 5 14 5-26 5 18 5-2 5 7 5-4 5 25 5-63 5 20 5 9 5 9 5-9 5 0 5-10 5 2 5 6 5 28 5-27 5 41 5-19 5-16 5 13 5 2 5-26 5-5 5 36 5-28 5 21 5-2 5-27 5 27 5-1 5 8 5-15 5 6 5-1 5-7 5 22 5-8 5 7 5-14 5 9 5-24 5 4 5 19 5-15 5-2 5 7 5-20 5 20 5 4 5-10 5-9 5 34 5-16 5-17 5 5 5-12 5-1 5-2 5 13 5 14 5 4 5-10 5 13 5-5 5-20 5 4 5 13 5 4 5 5 5-28 5-7 5 46 5-26 5 14 5-11 5-16 5 32 5-11 5 12 5-10 5-18 5 11 5 12 5-20 5 10 5 12 5-28 5 10 5 7 5 9 5-13 5-7 5 15 5-13 5 12 5-1 5-7 5 13 5 4 5-29 5 21 5-8 5-1 5 4 5 13 5-16 5-2 5-10 5 12 5 2 5-11 5 8 5 9 5 11 5-20 5 27 5-12 5-1 5-3 5-6 5-8 5 6 5 2 5 1 5 16 5 5 5-17 5 6 5-20 5-15 5 22 5 4 5 14 5 11 5-25 5 13 5-3 5-10 5 7 5-5 5 14 5-31 5-14 5 28 5 9 5 2 5-19 5 13 5-14 5 16 5-17 5-4 5 24 5-26 5-2 5 26 5-8 5-28 5 40 5-28 5 9 5 4 5 25 5-24 5 11 5-12 5 8 5-23 5 17 5-7 5-5 5 15 5 9 5-7 5-9 5 12 5-21 5 16 5 3 5-7 5-2 5 4 5-8 5 4 5 11 5-31 5 37 5-9 5-3 5-14 5 7 5-2 5 15 5-1 5 6 5-13 5-24 5 12 5 7 5 8 5-21 5 15 5 3 5-7 5 4 5 29 5-27 5 23 5-20 5-11 5 15 5-11 5 4 5-26 5 30 5-10 5 19 5-12 5-5 5-8 5 12 5-4 5-5 5 31 5-24 5 12 5 7 5-12 5 2 5-1 5 5 5-4 5-1 5-4 5-8 5 1 5-2 5 9 5 13 5-26 5 4 5-4 5 10 5 13 5-16 5 7 5-30 5 25 5 8 5-13 5-12 5 24 5-6 5 22 5-28 5 5 5-2 5 5 5-22 5 37 5-9 5-10 5-1 5 10 5-2 5-9 5 3 5 6 5-9 5 1 5-1 5 1 5-11 5 4 5 15 5 5 5-10 5-40 5 24 5 22 5 14 5-5 5-16 5-2 5-1 5 25 5-17 5-14 5 22 5-1 5-33 5 16 5 19 5-2 5-24 5 14 5 10 5-6 5-16 5 10 5 10 5-2 5-17 5 38 5-24 5-20 5 13 5-27 5 23 5 8 5 28 5-26 5 2 5 5 5-6 5-10 5 23 5-10 5 12 5-6 5-22 5 5 5 1 5 0 5 9 5-7 5-7 5 26 5-1 5-15 5-13 5 5 5-1 5-2 5-1 5 14 5 1 5 1 5-15 5 14 5 19 5-20 5-7 5 36 5-28 5-11 5 18 5-19 5 4 5 16 5-18 5-10 5 25 5 1 5-25 5 12 5 16 5-10 5 7 5-11 5-6 5 1 5 3 5 6 5-33 5 9 5 22 5 7 5-15 5 8 5-12 5-4 5 18 5-3 5-5 5-9 5 16 5-2 5-2 5 1 5-2 5 10 5-2 5 16 5-4 5-17 5-13 5 21 5-14 5 24 5-34 5 12 5 22 5-17 5 8 5-1 5-13 5 15 5-19 5 6 5 27 5-26 5 7 5-17"/>
<path stroke="#ff00ff" d="M1743 9268l5-43 5 10 5 7 5-24 5 15 5-1 5-35 5 54 5-9 5-25 5 8 5 13 5-16 5-1 5-24 5 38 5-9 5 2 5-36 5 61 5-30 5-12 5 46 5-42 5-29 5 19 5-38 5 64 5-31 5-8 5 34 5-56 5 41 5-53 5 25 5-14 5 50 5 3 5-45 5 19 5-24 5 10 5-32 5-24 5-9 5 36 5 28 5-48 5-25 5 36 5-45 5-17 5-13 5-26 5-25 5-47 5 9 5-46 5-17 5-80 5-92 5-40 5-59 5-160 5-162 5-199 5-243 5-289 5-370 5-313 5-326 5-107 5 139 5 291 5 329 5 363 5 309 5 226 5 160 5 198 5 122 5 84 5 47 5 74 5 40 5 46 5 64 5 32 5 6 5 18 5 21 5 3 5 15 5 6 5 31 5 66 5-5 5-4 5 15 5 4 5 30 5-1 5-43 5 28 5-32 5 29 5-32 5 26 5-45 5 3 5 12 5 17 5-8 5-34 5 29 5-1 5-8 5-2 5 48 5-41 5-8 5 31 5-9 5-3 5 18 5-5 5-2 5 13 5-13 5-17 5 6 5-2 5 15 5-25 5-14 5 38 5-27 5-12 5 47 5-21 5 24 5-20 5-13 5-5 5 11 5 0 5-17 5 5 5-31 5 23 5-42 5 24 5 11 5 2 5 6 5-69 5 42 5 6 5-6 5-37 5 26 5 29 5-66 5 38 5 13 5-36 5 25 5-33 5 5 5 0 5 19 5-6 5 20 5-37 5 15 5 21 5-9 5-37 5 38 5-23 5 16 5-2 5 17 5-22 5-40 5 9 5 41 5-20 5 27 5-18 5-20 5 36 5-38 5-24 5 80 5-78 5 50 5 7 5-16 5-35 5 53 5-48 5 3 5 20 5 23 5-8 5 11 5-24 5 6 5-18 5 17 5 19 5-16 5 16 5-19 5 0 5 14 5-4 5 17 5-7 5 31 5-37 5 1 5-15 5 22 5 15 5-26 5 15 5 17 5-14 5-5 5 31 5-14 5 8 5 18 5 3 5-27 5-1 5 19 5-5 5-32 5 66 5-22 5 18 5-35 5 51 5-33 5 12 5-22 5 27 5 1 5 4 5 15 5-5 5 21 5-27 5-8 5 22 5 14 5 14 5-7 5-49 5 43 5 23 5-27 5-11 5 17 5-16 5 23 5-13 5 28 5-18 5-24 5 27 5 6 5-29 5 3 5-37 5 63 5-29 5-30 5 7 5 30 5 20 5-17 5 12 5-31 5-5 5 44 5-8 5-10 5 26 5-44 5 11 5 29 5 16 5-36 5 33 5-45 5 19 5-10 5-28 5 37 5 13 5-21 5 1 5 29 5-51 5-5 5 16 5-10 5 50 5-20 5-23 5 5 5 68 5-68 5-3 5 21 5 7 5-8 5-22 5-5 5 34 5-12 5-32 5 56 5-8 5-20 5 0 5 10 5-18 5-13 5 33 5-35 5 36 5-36 5 27 5-1 5 38 5-56 5-7 5 15 5-9 5 11 5 19 5 7 5 18 5-47 5 66 5-12 5-43 5-41 5 43 5 3 5-46 5 46 5-5 5-11 5 28 5 7 5-29 5 14 5-17 5-3 5 17 5 9 5-21 5-33 5 56 5-43 5 34 5 32 5-35 5-23 5-5 5 52 5-24 5 11 5 8 5-19 5-5 5-13 5-42 5 31 5 29 5-2 5 11 5-10 5 6 5 12 5-33 5 12 5-26 5 51 5-18 5 9 5 20 5-9 5-22 5 17 5-44 5 37 5-6 5-34 5 58 5-40 5 27 5-21 5 27 5 7 5-42 5-14 5 28 5 19 5-24 5-5 5 22 5-64 5 42 5-14 5 33 5-21 5-7 5 15 5-22 5 29 5-13 5 6 5-7 5 32 5-20 5 13 5-1 5-25 5 27 5-4 5-1 5-14 5 0 5 24 5 27 5-59 5 27 5-18 5 23 5-7 5 12 5-75 5 43 5-8 5 18 5-13 5 2 5 26 5 24 5-93 5 49 5 12 5-6 5-7 5-20 5 8 5 33 5 7 5-20 5-18 5 18 5-6 5 15 5-9 5-14 5 16 5-27 5 39 5 7 5-47 5 32 5-28 5 40 5-3 5-23 5 24 5-28 5-4 5 1 5 9 5-4 5 9 5-15 5 27 5 5 5-30 5-18 5 42 5 8 5-26 5-22 5 31 5 24 5-67 5 46 5-15 5-11 5 27 5-36 5 31 5 20 5-22 5-21 5-18 5 10 5-11 5 67 5-36 5-16 5-5 5 5 5 14 5-19 5 58 5-48 5 0 5 21 5 22 5-2 5-36 5 15 5-3 5 8 5-6 5-23 5-7 5 28 5-26 5 50 5-27 5-21 5 14 5-4 5 8 5 21 5-47 5-9 5 43 5-10 5 7 5 5 5-12 5 19 5-33 5 18 5-17 5-6 5 34 5-1 5-50 5 16 5 28 5 15 5-34 5 9 5-24 5 77 5-40 5 8 5-5 5 6 5-7 5-18 5 21 5-13 5 23 5-40 5 4 5 23 5 13 5-23 5-17 5 12 5-8 5 47 5-20 5 7 5-19 5-17 5 34 5 10 5-22 5-12 5 22 5-29 5 23 5-30 5-5 5 30 5-4 5 30 5-43 5 6 5-23 5-14 5 1 5 44 5-32 5 45 5 6 5-34 5 38 5-28 5 17 5-27 5 24 5-38 5 31 5-22 5 7 5 14 5-9 5-5 5 16 5 1 5-43 5 38 5 2 5-28 5 22 5-34 5 54 5-33 5 3 5 25 5-27 5 15 5-33 5 9 5-16 5 23 5 24 5-16 5 13 5-38 5 3 5 8 5 20 5-5 5-7 5 12 5-16 5 3 5 25 5-37 5 15 5 27 5-30 5 12 5-27 5 50 5-83 5 22 5 1 5 52 5-26 5-12 5-21 5 32 5-6 5-16 5-17 5 7 5 25 5 1 5-5 5-6 5-33 5 35 5-23 5 20 5 7 5-24 5-8 5 37 5-14 5-22 5-49 5 55 5 11 5 6 5-39 5-4 5-1 5 20 5-46 5 13 5-25 5 14 5-48 5 24 5-34 5-15 5-10 5-19 5-96 5 4 5-74 5-101 5-78 5-172 5-169 5-272 5-256 5-157 5-35 5 90 5 235 5 223 5 202 5 195 5 166 5 33 5 103 5 30 5 85 5 51 5-14 5 40 5 53 5-12 5-10 5 10 5-5 5 63 5-23 5 41 5 2 5-25 5 6 5 30 5-10 5 6 5-35 5 52 5-33 5-25 5 34 5 22 5 34 5-47 5-18 5 69 5-37 5-8 5-15 5 2 5 50 5-34 5-4 5 1 5 41 5-41 5 24 5-7 5 0 5-21 5 30 5 19 5-32 5-17 5-7 5 30 5-9 5 4 5 2 5-29 5 45 5-11 5-6 5 7 5 13 5-17 5-17 5 40 5-32 5-5 5-17 5 31 5-20 5 10 5 19 5-8 5 20 5-14 5-14 5 2 5-4 5 23 5-12 5-9 5 25 5-15 5-11 5-20 5 38 5-3 5-4 5-10 5-7 5 12 5 9 5-7 5-1 5-6 5 16 5-2 5-19 5 29 5 1 5 0 5-18 5-1 5-19 5 37 5-56 5 34 5 1 5 24 5-17 5-19 5-9 5 13 5 17 5-1 5-5 5-10 5 10 5 23 5-41 5 23 5 31 5-21 5-20 5 22 5-28 5 15 5 30 5 7 5-71 5 48 5 24 5-49 5 16 5 25 5-40 5 19 5-10 5-37 5 45 5-11 5 22 5 23 5-28 5-20 5 16 5-5 5 16 5-48 5 5 5-17 5 52 5-12 5-13 5-1 5 3 5-7 5 12 5-4 5 37 5-21 5-22 5 4 5 35 5-14 5-3 5 8 5 17 5-55 5 9 5-19 5 44 5-18 5-5 5-2 5 28 5-16 5-8 5 35 5-45 5-4 5 76 5-59 5-3 5-4 5 12 5 18 5 0 5-4 5-16 5-63 5 35 5 26 5-8 5-24 5 20 5-22 5 7 5-22 5 19 5 10 5-6 5 20 5 22 5-10 5-31 5-8 5 2 5-5 5 20 5 8 5-4 5 1 5 0 5-5 5-11 5 49 5-13 5-38 5 1 5 7 5 12 5 25 5-4 5 1 5 1 5 1 5-7 5-5 5-11 5-31 5 32 5 38 5-45 5-1 5 32 5-18 5-10 5 40 5-18 5 3 5-25 5 21 5-2 5 8 5 8 5 0 5-19 5 11 5-36 5 35 5 2 5-21 5-8 5 15 5-23 5 31 5 0 5-25 5 20 5 21 5 0 5-1 5-23 5-3 5-1 5 20 5 35 5-19 5 4 5-4 5-58 5 28 5-5 5 33 5 9 5-46 5 14 5 11 5-21 5-2 5-1 5 31 5-35 5 40 5-20 5 13 5 16 5-44 5-2 5 24 5-28 5 6 5 12 5 6 5-28 5 17 5 19 5 16 5-65 5 64 5-8 5-39 5-7 5 37 5-16 5 11 5 14 5-24 5 11 5 6 5 8 5 17 5-1 5-28 5-9 5 51 5-34 5-4 5-30 5 37 5-30 5 6 5-17 5 16 5 11 5-30 5 12 5 16 5-23 5 0 5 8 5-11 5 40 5-32 5 35 5 3 5-42 5 24 5-10 5-13 5 16 5 2 5 18 5 6 5-41 5 13 5 19 5 12 5-71 5 73 5-28 5 33 5-39 5-8 5 17 5 22 5-22 5-47 5 60 5-46 5 13 5-4 5-13 5 11 5 5 5 7 5 11 5-6 5-22 5 25 5 23 5-1 5-16 5 9 5 5 5 9 5 7 5-40 5 1 5 34 5 1 5 0 5-77 5 42 5-60 5 78 5-14 5 0 5-4 5 28 5-32 5 26 5-10 5-4 5 2 5-7 5-25 5 36 5-1 5-17 5 17 5 3 5-44 5 22 5-6 5-10 5 24 5-24 5 8 5 12 5 2 5-2 5 37 5-54 5 14 5-30 5 32 5 13 5 0 5-38 5 6 5 29 5-27 5 19 5-39 5 44 5-8 5-13 5-27 5 11 5 4 5 0 5-9 5-5 5 6 5 21 5-70 5 10 5-7 5 14 5-25 5 42 5-13 5-11 5-13 5 12 5-5 5-2 5-26 5 22 5-47 5 47 5-90 5 43 5-18 5 34 5-50 5 60 5-70 5 66 5-34 5-11 5 6 5 34 5-26 5-61 5 67 5-19 5-36 5 46 5-38 5 27 5 1 5-18 5 26 5-32 5 31 5-2 5 23 5 61 5-15 5-4 5 37 5 3 5 28 5 12 5 6 5 5 5-9 5 22 5 13 5-32 5 11 5 2 5 23 5-4 5-37 5 14 5-34 5 6 5 15 5 8 5 2 5-29 5-23 5 34 5-12 5 13 5-4 5 12 5-2 5 2 5-30 5 24 5-36 5 4 5 28 5-37 5-37 5 47 5-14 5 1 5-19 5 4 5-8 5-4 5 49 5-31 5 5 5 7 5 52 5-14 5-20 5 10 5 14 5 9 5-48 5 50 5-22 5-10 5 5 5 22 5 17 5-34 5 6 5-29 5 23 5 3 5-49 5 16 5 22 5-55 5 22 5 14 5-51 5 19 5 1 5 8 5-52 5 36 5-28 5 3 5-18 5-36 5-20 5-72 5-26 5-34 5-38 5-40 5-136 5-80 5-167 5-206 5-222 5-423 5-506 5-642 5-555 5-76 5 523 5 584 5 547 5 458 5 290 5 198 5 161 5 124 5 84 5 80 5 30 5 41 5 52 5 22 5 37 5-8 5 18 5-9 5 63 5-49 5 38 5-16 5 28 5 11 5-46 5 29 5-32 5 60 5-39 5-27 5 11 5 31 5-6 5-17 5-55 5-7 5 12 5-75 5-29 5-58 5-64 5-31 5-117 5-149 5-201 5-283 5-401 5-565 5-549 5-263 5 292 5 514 5 517 5 436 5 299 5 222 5 150 5 73 5 79 5 71 5 31 5 60 5 42 5 18 5-12 5 27 5 64 5-32 5 45 5 8 5-10 5-6 5 31 5-16 5 20 5 10 5-12 5 14 5 2 5-15 5 23 5-6 5-21 5 32 5 3 5-4 5-27 5 57 5 0 5 1 5-5 5-30 5 29 5-20 5 63 5-53 5 25 5-43 5 8 5 14 5 25 5-2 5-5 5-41 5 59 5-40 5 51 5 6 5-20 5 3 5-43 5 76 5-46 5 16 5-36 5 16 5-22 5 19 5 5 5 6 5 22 5-17 5-5 5-3 5 39 5-51 5 35 5-61 5 21 5 26 5-11 5 63 5-9 5-80 5 9 5 19 5 37 5-12 5-15 5-34 5 11 5-36 5 23 5 39 5 7 5-41 5 28 5 30 5-28 5-9 5 18 5-2 5-8 5-12 5 2 5 11 5-13 5 37 5-8 5 4 5 18 5-8 5-3 5-21 5-11 5 50 5-59 5 1 5-4 5 21 5 4 5 12 5-24 5-30 5 41 5 13 5-18 5-4 5 14 5 17 5-29 5-26 5 17 5 8 5-32 5 50 5-30 5 25 5-6 5-10 5 39 5-43 5-2 5 19 5 11 5-17 5-19 5 33 5-2 5 29 5-45 5 9 5-15 5-18 5 31 5 15 5-37 5 7 5-10 5 50 5-39 5 24 5-28 5 19 5-14 5-34 5 48 5 9 5-51 5 37 5-5 5-12 5 16 5-33 5 43 5 19 5-49 5 24 5 29 5-25 5-13 5-7 5 21 5-6 5 15 5-42 5 51 5-29 5 21 5-27 5-11 5 14 5-7 5 11 5 20 5 9 5-17 5-15 5 2 5 21 5 10 5-28 5 4 5-13 5 19 5 15 5-76 5 62 5-15 5-35 5 52 5-8 5 9 5-34 5 69 5-40 5-9 5 36 5-17 5 4 5 6 5-63 5 73 5-40 5 13 5 12 5-33 5 20 5 9 5-16 5 10 5-42 5 8 5 0 5 30 5 66 5-69 5-9 5 1 5 20 5-7 5-37 5 41 5-22 5 15 5-58 5 6 5 38 5-54 5 33 5-17 5-27 5-29 5-47 5-54 5-85 5-67 5-16 5-97 5-48 5-9 5 8 5 74 5 59 5 92 5 24 5 16 5 60 5 31 5 23 5-51 5-68 5-10 5-27 5 20 5 9 5 21 5 82 5 36 5 29 5 38 5 54 5-23 5 0 5 30 5-46 5 49 5-28 5 0 5 19 5 31 5-47 5 34 5-11 5-34 5 46 5-34 5-13 5 14 5 1 5 26 5-26 5 44 5-25 5-18 5-2 5 21 5-44 5-3 5 26 5 30 5-9 5-3 5-4 5-39 5 37 5-29 5 52 5-17 5-1 5 9 5-1 5-2 5 3 5-19 5-14 5 33 5 22 5-9 5-24 5 17 5-21 5 16 5-19 5 15 5 36 5-24 5 15 5-45 5 2 5 13 5 11 5-15 5 25 5-31 5 38 5-8 5-41 5 33 5-15 5 24 5-30 5 16 5 5 5-65 5 18 5 39 5-5 5 23 5-16 5-29 5 31 5-21 5 11 5-6 5 17 5-35 5 6 5-21 5 86 5-62 5 3 5-6 5 10 5 4 5 21 5-9 5 3 5-18 5 11 5 25 5-24 5 6 5-46 5 51 5-5 5 20 5-80 5 55 5-3 5 4 5-14 5 17 5 9 5-12 5-7 5 2 5-4 5 9 5-15 5-25 5 66 5-61 5 32 5-24 5 21 5-14 5 18 5-15 5-9 5 31 5 21 5-20 5-4 5-23 5 19 5 10 5-21 5 30 5-18 5 8 5-17 5 0 5 14 5 4 5-1 5-27 5 6 5 14 5-36 5 57 5-15 5-5 5-15 5 31 5-22 5 43 5-30 5-37 5 44 5-25 5 0 5 6 5 2 5 8 5 10 5-6 5-23 5-12 5 10 5 23 5 10 5 19 5-62 5 28 5-6 5-3 5 10 5-7 5-1 5-7 5 20 5 14 5 11 5-42 5-11 5 16 5-11 5 36 5-36 5 18 5-28 5 19 5 11 5 26 5-43 5 21 5-48 5 17 5 8 5 6 5 18 5 4 5-44 5 42 5-32 5 58 5-30 5-3 5-6 5 3 5 0 5-13 5 28 5-9 5 9 5-16 5 15 5-28 5 85 5-84 5 5 5 28 5 5 5-40 5-17 5 6 5 8 5 4 5 12 5 24 5 1 5-34 5 23 5 7 5 10 5-31 5-11 5 29 5 16 5-41 5 49 5-4 5-39 5-26 5 19 5 5 5 18 5-44 5 81 5-2 5-60 5-22 5 33 5 12 5 18 5-12 5-18 5-35 5 49 5 6 5-22 5 11 5-1 5-9 5-18 5 30 5-35 5 56 5-45 5 27 5-24 5 22 5-12 5 15 5-26 5-16 5 26 5-1 5-23 5 16 5-19 5 35 5-9 5 7 5 51 5-48 5 4 5 5 5-15 5-8 5 29 5 3 5-78 5 54 5-3 5-5 5 36 5-35 5 28 5-28 5 3 5 22 5-29 5 12 5-19 5 5 5 32 5-2 5-33 5 1 5 76 5-60 5 0 5 32 5-19 5 15 5 32 5 9 5-18 5 34 5-27 5-2 5 2 5-11 5 10 5-11 5-29 5 12 5-21 5-6 5 4 5 18 5-20 5 12 5-7 5-55 5-49 5-59 5-44 5-51 5-23 5-52 5 87 5 68 5 91 5 7 5 30 5-8 5 25 5-2 5 5 5 3 5-11 5 29 5 10 5 8 5-17 5 23 5 1 5-51 5 25 5-19 5 5 5 23 5-6 5 32 5 11 5-32 5-12 5 1 5 3 5 12 5-26 5 26 5-16 5 25 5 7 5 7 5-37 5-24 5-6 5 27 5-22 5-4 5 25 5-12 5 33 5 24 5-42 5 11 5-38 5 35 5-17 5-8 5-15 5 68 5-63 5 8 5 24 5 5 5 1 5-4 5-20 5 33 5-11 5-32 5 60 5-39 5 26 5-47 5 5 5 12 5-2 5 33 5-52 5 36 5-23 5 30 5-6 5-15 5 54 5-44 5 22 5-47 5 23 5 4 5 1 5-9 5-9 5-45 5 50 5-7 5 13 5 22 5 27 5-33 5 9 5-7 5 1 5-2 5-17 5-1 5 13 5 29 5-20 5 16 5-57 5 31 5 2 5 3 5-37 5-10 5-5 5 34 5 54 5-42 5-28 5 31 5-13 5 9 5-12 5-16 5 15 5 24 5-8 5 18 5-45 5 42 5-19 5 2 5 21 5-27 5 8 5 7 5 1 5 3 5 9 5-15 5-19 5 57 5-48 5 8 5-22 5-29 5 28 5 17 5 9 5-10 5 15 5 4 5 0 5-19 5 1 5-6 5-13 5 46 5-53 5 23 5 6 5-46 5 56 5-21 5 11 5-11 5-23 5 34 5-2 5 18 5-11 5-42 5 55 5-6 5-1 5-5 5-24 5 25 5-18 5 64 5-61 5-18 5 16 5 35 5-40 5-37 5 77 5-22 5-16 5 24 5-33 5-5 5 42 5-29 5 21 5-10 5 16 5-14 5-43 5 54 5-23 5 27 5-15 5 26 5-34 5-35 5 35 5 16 5-17 5-2 5 38 5-32 5 24 5-18 5-31 5 9 5 13 5 12 5-22 5-12 5 8 5 10 5-7 5 6 5 48 5-31 5-22 5 16 5 31 5-18 5-15 5-24 5-7 5 27 5 4 5-30 5 6 5 26 5-43 5 9 5 33 5 12 5-4 5 13 5 11 5-13 5-23 5 47 5-8 5-15 5-34 5 24 5-49 5 34 5-42 5 41 5 28 5-20 5 32 5-32 5 2 5-8 5 17 5-12 5 25 5 8 5-24 5-30 5 33 5 16 5-14 5-7 5 13 5 7 5-77 5 81 5-14 5-6 5-20 5 15 5 8 5-41 5 43 5-13 5 28 5-16 5-17 5 5 5 11 5-9 5 8 5-25 5-11 5 14 5-17 5 13 5 22 5-39 5 8 5 39 5-25 5 10 5-24 5 4 5 14 5 38 5-23 5-42 5 42 5 9 5-4 5-38 5 23 5 43 5-60 5 25 5-21 5-11 5 17 5 29 5 2 5-40 5 8 5-8 5-23 5 53 5 18 5-1 5-38 5 35 5-5 5-28 5 7 5-7 5 12 5 31 5-54 5-5 5 40 5-16 5-38 5 17 5 4 5 4 5 19 5 13 5-23 5 6 5-17 5 34 5 7 5-32 5-9 5 55 5-22 5-36 5-16 5 28 5 29 5-34 5 6 5-5 5 23 5 14 5-52 5 19 5 2 5-8 5-12 5 40 5-13 5 11 5 16 5-37 5 18 5-19 5 6 5 9 5-10 5-26 5 59 5-27 5-25 5-21 5 43 5 13 5 7 5 2 5-29 5 20 5-43 5 34 5 15 5-30 5 8 5 6 5 0 5 27 5-51 5 48 5-51 5 12 5-3 5 14 5-8 5 19 5-9 5 43 5-36 5-12 5 12 5 5 5-16 5-18 5 6 5 20 5 12 5-6 5-12 5 13 5-21 5 15 5 23 5-6 5 5 5-34 5 11 5-24 5 38 5-26 5-18 5 17 5 14 5-48 5 16 5 47 5-18 5-2 5-31 5 63 5-11 5-7 5-35 5 33 5 11 5-29 5 2 5-5 5 21 5-16 5-2 5-22 5-4 5 51 5 13 5-14 5 11 5-39 5 10 5 8 5-10 5 36 5-59 5 15 5 4 5-7 5 30 5-55 5 61 5-4 5-12 5 21 5 19 5-42 5 10 5-6 5 2 5-20 5-4 5 26 5-22 5 29 5-3 5-24 5 16 5-6 5-4 5 25 5-22 5 4 5-42 5 50 5-40 5 20 5 40 5 3 5-43 5-17 5 33 5-16 5 15 5-33 5 48 5 9 5-59 5 13 5 2 5 28 5-53 5 43 5-9 5-11 5 29 5-52 5 12 5 11 5 30 5-21 5-9 5 25 5-19 5-3 5 7 5 13 5 46 5-74 5 27 5-9 5-2 5 35 5-14 5-2 5-22 5-8 5 22 5-11 5-6 5 25 5-37 5 10 5 29 5-17 5 15 5-30 5 31 5-28 5 41 5-11 5-7 5 21 5-23 5-19 5 43 5-24 5 17 5-20 5 19 5-39 5-8 5-3 5 43 5-54 5 4 5 7 5 33 5 4 5-25 5 32 5-10 5 18 5-5 5-32 5 17 5-7 5 12 5-5 5-3 5 14 5-13 5 13 5-14 5-3 5 21 5 0 5 6 5-12 5-16 5 8 5-1 5-38 5 13 5 52 5-31 5-55 5 54 5 5 5-27 5 69 5-23 5-6 5-20 5 14 5 7 5-7 5-23 5 17 5-1 5 3 5-26 5 25 5-5 5 5 5-1 5-32 5 45 5-2 5-41 5 24 5-14 5 7 5 29 5-9 5 28 5-37 5-24 5 24 5-50 5 83 5-30 5 4 5-6 5-20 5 15 5-14 5 6 5 16 5-30 5 56 5-53 5 37 5-29 5-12 5 32 5-5 5-7 5 3 5-11 5 20 5-18 5 10 5 21 5-47 5 14 5-2 5-2 5-11 5 21 5 8 5-5 5-29 5 44 5 1 5-13 5-20 5 2 5 55 5-4 5-25 5-27 5 42 5-21 5 29 5-43 5 20 5-13 5 18 5-27 5 30 5-25 5-10 5 28 5-6 5-46 5 40 5 3 5 2 5 36 5-53 5 13 5-33 5 4 5 17 5 9 5-2 5 17 5 1 5 6 5-23 5 12 5-24 5 21 5 3 5-20 5-53 5 50 5 63 5-53 5-11 5 15 5 19 5-16 5-11 5-21 5 19 5-18 5 30 5 22 5-10 5-33 5-8 5-10 5 35 5 0 5 0 5-14 5-37 5-24 5 48 5-53 5 38 5-94 5 5 5-9 5 16 5 4 5-25 5 24 5-36 5 14 5-23 5-6 5-34 5-30 5-6 5-179 5-81 5-100 5-140 5-104 5-170 5-67 5-102 5-1 5-9 5 37 5 37 5 37 5 79 5 101 5 48 5 93 5 42 5 128 5 101 5 29 5 134 5 105 5 8 5 79 5 13 5 35 5-16 5-5 5 6 5 1 5-3 5 0 5 49 5-21 5 1 5 17 5 38 5-46 5 59 5 8 5 13 5-32 5-7 5 20 5 0 5 23 5-25 5-9 5-18 5 22 5 5 5 21 5-22 5 24 5-3 5-41 5-9 5 8 5 6 5-14 5 25 5-5 5 3 5-29 5-31 5-8 5-63 5-33 5-90 5-55 5-188 5-59 5-133 5-144 5-93 5-61 5 14 5 44 5 31 5 104 5 24 5 81 5 55 5 22 5 94 5 53 5 107 5 45 5 55 5 72 5 76 5 44 5 28 5-4 5 43 5-18 5 11 5 28 5-20 5-32 5 53 5-12 5-7 5 35 5-37 5 26 5-9 5 49 5-86 5 40 5 4 5 15 5-29 5-4 5 40 5-35 5 14 5-6 5 9 5-34 5 16 5 10 5 4 5 19 5-11 5 2 5-13 5 26 5-36 5 10 5-27 5 9 5 37 5-17 5-35 5 35 5-3 5-18 5 29 5-12 5 6 5 18 5-30 5 33 5-26 5 0 5 31 5-18 5-15 5 6 5 6 5-32 5 41 5-13 5-25 5 7 5 36 5-42 5 67 5-63 5 25 5-54 5 49 5-9 5 20 5-6 5-10 5 49 5-27 5-30 5 21 5-63 5 45 5 36 5-35 5 14 5-26 5 38 5-13 5-2 5 18 5 14 5-16 5-50 5 42 5-3 5-27 5-9 5 23 5 2 5 5 5-13 5 18 5 2 5-11 5 13 5-19 5-19 5 31 5 17 5 36 5-95 5 32 5-7 5 22 5-22 5 20 5 17 5-34 5 13 5 33 5-14 5-49 5 72 5-54 5 20 5-14 5-1 5-5 5 26 5-27 5-9 5 13 5 11 5-39 5 55 5-29 5 28 5 13 5-21 5 4 5-19 5-4 5-24 5 33 5-6 5-36 5 52 5 24 5-22 5 15 5-28 5-14 5 21 5-8 5-15 5 42 5-17 5-16 5 17 5-7 5 15 5 20 5-44 5-11 5 51 5 20 5-59 5-6 5-6 5 24 5 2 5-7 5 21 5-32 5 4 5-12 5 51 5-6 5 5 5-42 5 43 5-21 5 9 5-3 5-17 5 3 5-27 5 19 5 7 5-19 5 25 5 23 5-34 5-10 5 3 5 20 5 31 5-31 5-2 5-26 5 31 5 6 5-20 5 7 5-12 5 27 5 12 5-18 5 2 5-9 5-13 5-3 5 8 5 10 5-3 5 20 5-5 5 15 5-14 5-20 5 7 5-34 5 65 5-44 5 3 5 44 5-57 5 9 5 11 5-10 5 13 5 3 5 8 5-14 5 15 5-20 5 19 5 11 5-57 5 30 5 8 5-41 5-23 5 66 5-18 5 28 5-16 5 0 5-6 5 9 5-20 5 8 5 25 5-20 5 15 5-10 5-7 5-12 5 36 5-33 5 23 5-37 5 36 5 2 5-20 5-19 5 28 5 6 5-13 5-3 5 31 5-19 5-6 5 24 5-17 5-13 5 31 5-24 5 25 5-31 5 19 5 18 5-15 5 1 5-1 5 8 5-15 5 7 5-13 5 42 5-54 5 33 5-35 5 29 5 16 5-47 5 55 5-53 5 3 5 22 5-27 5 40 5-9 5-63 5 26 5 13 5 23 5-29 5 7 5 26 5-32 5 25 5-32 5 46 5 8 5-49 5-24 5 13 5 52 5-30 5 31 5-46 5 8 5 16 5 23 5-25 5-16 5 26 5-4 5 8 5-13 5-9 5 13 5-49 5 54 5 18 5-13 5-29 5-11 5 55 5-35 5 6 5 8 5-15 5 12 5 28 5-38 5 46 5-29 5-1 5 12 5-1 5 3 5-10 5-22 5 43 5-34 5-13 5 33 5-4 5-14 5 2 5 10 5 27 5-39 5-23 5 13 5 21 5-14 5-8 5 27 5 0 5-18 5 9 5-18 5 1 5 5 5-20 5 33 5-8 5-8 5 12 5 0 5-17 5 3 5-3 5 41 5-59 5 31 5 18 5-37 5 2 5 0 5-16 5 58 5-28 5-17 5 9 5 15 5-9 5-11 5 27 5-27 5 9 5 11 5-17 5 15 5-14 5 65 5-60 5 21 5-30 5-5 5 20 5-5 5 0 5 6 5 18 5 20 5 2 5-38 5 35 5-3 5-45 5 3 5 7 5 40 5-41 5-2 5 32 5-31 5 1 5 15 5-9 5-50 5 23 5 38 5-42 5 52 5-25 5 6 5 1 5-41 5 21 5-6 5 25 5 25 5-34 5 6 5-39 5 30 5 3 5 1 5 16 5 15 5-27 5 8 5-38 5 42 5-11 5-34 5 40 5-19 5 32 5-10 5-7 5 31 5-36 5-3 5 7 5 2 5-19 5 28 5-3 5-18 5-20 5 54 5 2 5-8 5 2 5 16 5-28 5 26 5-35 5-14 5 18 5-6 5 16 5 25 5-27 5 13 5 21 5-6 5-33 5-15 5 55 5-63 5-14 5-4 5 62 5-51 5 24 5 2 5 28 5-52 5 28 5 5 5 22 5-32 5 10 5-11 5 27 5-3 5-26 5 19 5-40 5 31 5-19 5 9 5 28 5 23 5-38 5-7 5-4 5 22 5-18 5 22 5 11 5-17 5-20 5 23 5-29 5-21 5 57 5 16 5-12 5-33 5-59 5 52 5 27 5-20 5 35 5-43 5 25 5-5 5 1 5-33 5 26 5 7 5-13 5-18 5 16 5-9 5 26 5 12 5-12 5 1 5-11 5 7 5-42 5 40 5 16 5-28 5 24 5-43 5 31 5-5 5 13 5-6 5 41 5-106 5 34 5 15 5 15 5-14 5-1 5-17 5 4 5 10 5 47 5-46 5 70 5-33 5-27 5 22 5 5 5-44 5-9 5 62 5-48 5 36 5-4 5-46 5 46 5-2 5 15 5-26 5 9 5-1 5-12 5 37 5-13 5 11 5-23 5 16 5-42 5 7 5 32 5-24 5-4 5 12 5-35 5 35 5 6 5-16 5-15 5 56 5-26 5-28 5 8 5-20 5-2 5-3 5 21 5 25 5 6 5-17 5 23 5-9 5-34 5 6 5 23 5 8 5 8 5-49 5-11 5 78 5-45 5 25 5-19 5-27 5 55 5-19 5 20 5-17 5-31 5 19 5 20 5-33 5 18 5 19 5-47 5 17 5 11 5 15 5-20 5-13 5 26 5-23 5 20 5-1 5-11 5 21 5 7 5-49 5 36 5-14 5-2 5 7 5 22 5-26 5-3 5-19 5 22 5 3 5-18 5 13 5 15 5 18 5-33 5 45 5-19 5-3 5-5 5-9 5-15 5 12 5 2 5 2 5 28 5 9 5-29 5 9 5-33 5-25 5 37 5 7 5 22 5 20 5-42 5 21 5-4 5-18 5 12 5-8 5 23 5-51 5-25 5 48 5 16 5 2 5-32 5 22 5-23 5 26 5-28 5-6 5 39 5-43 5-4 5 44 5-13 5-48 5 69 5-47 5 15 5 7 5 42 5-40 5 18 5-21 5 13 5-38 5 28 5-12 5-8 5 26 5 15 5-11 5-16 5 21 5-36 5 28 5 4 5-12 5-4 5 8 5-14 5 7 5 19 5-52 5 62 5-15 5-5 5-24 5 12 5-4 5 25 5-1 5 10 5-21 5-41 5 21 5 11 5 14 5-36 5 26 5 5 5-13 5 8 5 48 5-45 5 39 5-34 5-18 5 24 5-19 5 7 5-43 5 51 5-18 5 33 5-19 5-10 5-13 5 21 5-8 5-8 5 52 5-40 5 21 5 11 5-21 5 5 5-3 5 9 5-7 5-2 5-7 5-12 5 1 5-4 5 16 5 22 5-44 5 7 5-8 5 18 5 21 5-26 5 12 5-51 5 43 5 12 5-21 5-20 5 41 5-11 5 37 5-47 5 9 5-5 5 10 5-38 5 62 5-14 5-17 5-2 5 17 5-3 5-15 5 5 5 10 5-15 5 2 5-2 5 1 5-18 5 7 5 25 5 8 5-16 5-68 5 41 5 36 5 25 5-9 5-28 5-2 5-2 5 42 5-29 5-22 5 36 5-2 5-56 5 27 5 32 5-2 5-41 5 24 5 17 5-10 5-27 5 16 5 17 5-3 5-29 5 64 5-41 5-33 5 23 5-47 5 40 5 12 5 48 5-43 5 4 5 7 5-10 5-16 5 38 5-16 5 20 5-10 5-38 5 9 5 1 5 0 5 17 5-12 5-12 5 43 5-2 5-25 5-21 5 8 5-2 5-3 5-1 5 23 5 1 5 3 5-27 5 24 5 33 5-34 5-12 5 60 5-46 5-18 5 29 5-31 5 7 5 26 5-31 5-17 5 42 5 3 5-43 5 20 5 28 5-16 5 11 5-18 5-10 5 1 5 5 5 10 5-56 5 15 5 38 5 12 5-25 5 13 5-21 5-6 5 30 5-5 5-8 5-15 5 26 5-2 5-4 5 2 5-4 5 17 5-3 5 27 5-7 5-28 5-23 5 36 5-24 5 41 5-58 5 20 5 38 5-29 5 13 5-1 5-22 5 26 5-33 5 10 5 47 5-44 5 11 5-28"/>
<path stroke="#008000" d="M1743 10166l5-27 5 6 5 5 5-15 5 9 5 0 5-22 5 33 5-5 5-15 5 5 5 8 5-10 5 0 5-16 5 24 5-5 5 1 5-22 5 37 5-18 5-8 5 29 5-26 5-18 5 12 5-23 5 39 5-18 5-5 5 21 5-35 5 26 5-33 5 16 5-8 5 30 5 2 5-27 5 12 5-15 5 7 5-19 5-15 5-5 5 22 5 18 5-29 5-15 5 23 5-27 5-10 5-7 5-15 5-14 5-27 5 7 5-26 5-8 5-46 5-53 5-20 5-30 5-91 5-90 5-110 5-134 5-158 5-206 5-168 5-183 5-58 5 78 5 160 5 179 5 201 5 170 5 123 5 87 5 111 5 68 5 45 5 24 5 42 5 21 5 25 5 38 5 18 5 2 5 9 5 12 5 1 5 8 5 3 5 18 5 41 5-5 5-2 5 8 5 3 5 17 5-1 5-26 5 16 5-19 5 18 5-20 5 15 5-27 5 1 5 8 5 10 5-5 5-21 5 18 5-1 5-5 5-2 5 30 5-25 5-5 5 19 5-6 5-2 5 11 5-3 5-1 5 8 5-8 5-10 5 3 5-1 5 9 5-15 5-9 5 24 5-17 5-7 5 28 5-13 5 15 5-12 5-8 5-3 5 6 5 0 5-10 5 3 5-20 5 15 5-27 5 15 5 7 5 1 5 4 5-43 5 26 5 3 5-3 5-23 5 16 5 17 5-40 5 24 5 7 5-22 5 16 5-20 5 3 5-1 5 12 5-3 5 12 5-23 5 9 5 13 5-5 5-23 5 23 5-14 5 10 5-1 5 10 5-14 5-24 5 6 5 25 5-13 5 17 5-11 5-12 5 22 5-23 5-16 5 50 5-48 5 31 5 4 5-10 5-21 5 32 5-29 5 2 5 12 5 14 5-5 5 7 5-15 5 4 5-11 5 11 5 12 5-11 5 11 5-12 5 0 5 8 5-2 5 10 5-4 5 19 5-23 5 1 5-9 5 14 5 9 5-16 5 9 5 11 5-9 5-3 5 20 5-9 5 5 5 11 5 2 5-17 5 0 5 12 5-3 5-20 5 41 5-13 5 10 5-21 5 32 5-21 5 8 5-14 5 17 5 1 5 2 5 9 5-3 5 13 5-16 5-5 5 13 5 9 5 9 5-4 5-30 5 26 5 14 5-16 5-7 5 10 5-9 5 14 5-8 5 17 5-11 5-14 5 16 5 4 5-18 5 2 5-23 5 39 5-18 5-19 5 5 5 19 5 12 5-11 5 7 5-19 5-2 5 27 5-5 5-6 5 16 5-27 5 6 5 18 5 10 5-22 5 20 5-27 5 11 5-6 5-17 5 22 5 9 5-13 5 1 5 18 5-32 5-3 5 10 5-6 5 30 5-12 5-14 5 3 5 42 5-42 5-2 5 13 5 4 5-5 5-13 5-3 5 21 5-8 5-19 5 34 5-5 5-12 5 0 5 6 5-11 5-8 5 20 5-21 5 22 5-22 5 16 5 0 5 23 5-35 5-4 5 10 5-6 5 6 5 13 5 4 5 11 5-29 5 41 5-8 5-27 5-25 5 27 5 2 5-29 5 29 5-3 5-8 5 18 5 4 5-18 5 9 5-11 5-1 5 10 5 6 5-13 5-20 5 33 5-26 5 21 5 20 5-22 5-14 5-3 5 32 5-15 5 7 5 5 5-12 5-3 5-8 5-25 5 19 5 17 5-1 5 7 5-6 5 3 5 8 5-21 5 8 5-16 5 31 5-11 5 5 5 13 5-5 5-14 5 10 5-27 5 23 5-4 5-21 5 36 5-25 5 17 5-13 5 17 5 4 5-26 5-9 5 17 5 12 5-14 5-3 5 13 5-39 5 25 5-8 5 20 5-13 5-4 5 9 5-13 5 17 5-8 5 4 5-4 5 20 5-13 5 8 5 0 5-16 5 17 5-3 5 0 5-9 5 0 5 14 5 17 5-36 5 17 5-11 5 14 5-5 5 8 5-47 5 27 5-5 5 11 5-7 5 1 5 16 5 14 5-57 5 30 5 8 5-4 5-4 5-12 5 5 5 20 5 4 5-12 5-11 5 11 5-4 5 10 5-6 5-9 5 10 5-16 5 24 5 4 5-28 5 19 5-17 5 25 5-2 5-14 5 15 5-17 5-3 5 1 5 5 5-2 5 6 5-10 5 17 5 3 5-18 5-12 5 26 5 5 5-15 5-14 5 19 5 15 5-41 5 28 5-9 5-7 5 17 5-22 5 19 5 12 5-13 5-13 5-11 5 6 5-7 5 42 5-23 5-9 5-3 5 2 5 9 5-11 5 36 5-30 5 0 5 13 5 14 5-2 5-22 5 9 5-1 5 5 5-4 5-14 5-4 5 17 5-16 5 30 5-16 5-12 5 8 5-2 5 4 5 13 5-29 5-5 5 27 5-6 5 4 5 3 5-7 5 11 5-20 5 11 5-10 5-4 5 21 5-1 5-30 5 10 5 17 5 9 5-21 5 6 5-15 5 48 5-25 5 5 5-3 5 4 5-4 5-12 5 13 5-8 5 15 5-25 5 3 5 14 5 8 5-14 5-11 5 8 5-5 5 29 5-12 5 4 5-11 5-11 5 21 5 6 5-13 5-8 5 14 5-18 5 14 5-18 5-3 5 18 5-2 5 19 5-27 5 4 5-14 5-9 5 1 5 27 5-20 5 28 5 3 5-20 5 23 5-17 5 11 5-17 5 14 5-23 5 19 5-13 5 4 5 9 5-5 5-3 5 9 5 1 5-26 5 23 5 1 5-17 5 14 5-21 5 33 5-20 5 2 5 15 5-16 5 9 5-20 5 6 5-10 5 14 5 15 5-10 5 8 5-24 5 2 5 5 5 12 5-2 5-5 5 8 5-10 5 2 5 16 5-23 5 9 5 17 5-19 5 7 5-16 5 31 5-51 5 13 5 1 5 32 5-15 5-8 5-13 5 20 5-4 5-10 5-10 5 5 5 15 5 1 5-4 5-3 5-20 5 21 5-13 5 12 5 4 5-14 5-6 5 24 5-9 5-13 5-30 5 34 5 6 5 4 5-24 5-2 5 0 5 13 5-28 5 8 5-14 5 8 5-28 5 15 5-20 5-8 5-5 5-10 5-56 5 5 5-42 5-58 5-42 5-97 5-94 5-154 5-143 5-86 5-19 5 49 5 132 5 124 5 112 5 110 5 95 5 15 5 59 5 15 5 50 5 29 5-10 5 23 5 32 5-8 5-7 5 5 5-3 5 38 5-14 5 25 5 1 5-16 5 3 5 18 5-5 5 3 5-22 5 32 5-20 5-16 5 21 5 13 5 21 5-29 5-11 5 43 5-23 5-5 5-9 5 1 5 30 5-20 5-3 5 0 5 26 5-26 5 15 5-4 5 0 5-13 5 18 5 12 5-20 5-10 5-4 5 18 5-6 5 2 5 2 5-18 5 28 5-7 5-4 5 4 5 9 5-11 5-11 5 25 5-19 5-4 5-10 5 19 5-13 5 7 5 12 5-5 5 12 5-9 5-8 5 1 5-3 5 14 5-7 5-5 5 15 5-9 5-7 5-12 5 23 5-2 5-3 5-5 5-5 5 7 5 6 5-5 5 0 5-4 5 10 5-1 5-12 5 18 5 1 5 0 5-11 5-1 5-12 5 23 5-35 5 21 5 1 5 15 5-11 5-11 5-6 5 8 5 10 5 0 5-3 5-6 5 6 5 14 5-25 5 14 5 19 5-13 5-12 5 13 5-17 5 9 5 19 5 4 5-43 5 29 5 15 5-30 5 9 5 15 5-24 5 12 5-6 5-23 5 27 5-6 5 14 5 14 5-17 5-13 5 10 5-3 5 10 5-30 5 3 5-10 5 32 5-8 5-7 5-1 5 2 5-5 5 8 5-2 5 23 5-13 5-14 5 3 5 21 5-9 5-2 5 6 5 10 5-34 5 6 5-12 5 27 5-11 5-3 5-1 5 17 5-10 5-4 5 21 5-28 5-2 5 47 5-36 5-2 5-3 5 8 5 11 5-1 5-2 5-10 5-15 5 22 5 15 5-6 5-15 5 12 5-14 5 4 5-15 5 12 5 5 5-4 5 12 5 13 5-7 5-19 5-5 5 1 5-4 5 12 5 5 5-3 5 0 5 0 5-4 5-7 5 29 5-8 5-23 5 0 5 4 5 7 5 15 5-3 5 1 5 0 5 0 5-4 5-4 5-7 5-19 5 19 5 24 5-29 5-1 5 20 5-11 5-7 5 25 5-12 5 2 5-16 5 13 5-2 5 5 5 5 5-1 5-11 5 6 5-22 5 22 5 0 5-13 5-4 5 8 5-14 5 19 5-1 5-15 5 12 5 13 5 0 5-1 5-14 5-2 5-1 5 12 5 21 5-11 5 2 5-3 5-36 5 17 5-2 5 20 5 5 5-28 5 8 5 7 5-13 5-2 5 0 5 19 5-22 5 25 5-13 5 8 5 10 5-27 5-2 5 15 5-18 5 4 5 7 5 4 5-17 5 10 5 12 5 9 5-40 5 39 5-5 5-23 5-5 5 23 5-10 5 6 5 9 5-15 5 6 5 4 5 5 5 11 5-1 5-18 5-6 5 32 5-21 5-3 5-18 5 23 5-19 5 4 5-11 5 10 5 7 5-19 5 7 5 10 5-14 5 0 5 5 5-7 5 24 5-19 5 21 5 2 5-26 5 15 5-6 5-8 5 9 5 1 5 12 5 3 5-25 5 8 5 11 5 8 5-44 5 45 5-18 5 21 5-24 5-5 5 11 5 13 5-14 5-29 5 37 5-28 5 8 5-3 5-8 5 7 5 3 5 5 5 6 5-3 5-14 5 15 5 14 5-1 5-10 5 6 5 3 5 6 5 4 5-25 5 0 5 21 5 1 5 0 5-47 5 25 5-37 5 48 5-8 5-1 5-2 5 17 5-20 5 16 5-6 5-3 5 1 5-5 5-15 5 22 5-1 5-10 5 10 5 1 5-27 5 14 5-5 5-6 5 15 5-15 5 4 5 8 5 0 5-1 5 22 5-34 5 9 5-19 5 20 5 7 5-1 5-23 5 3 5 17 5-17 5 11 5-25 5 27 5-6 5-8 5-18 5 6 5 2 5-1 5-7 5-4 5 3 5 11 5-44 5 5 5-6 5 7 5-17 5 24 5-10 5-8 5-10 5 5 5-5 5-3 5-19 5 11 5-31 5 26 5-58 5 24 5-13 5 18 5-33 5 35 5-46 5 40 5-23 5-8 5 4 5 20 5-16 5-38 5 42 5-12 5-22 5 28 5-23 5 16 5 1 5-11 5 16 5-19 5 22 5 4 5 23 5 46 5 0 5 6 5 31 5 9 5 23 5 12 5 7 5 6 5-4 5 14 5 9 5-19 5 7 5 1 5 14 5-3 5-23 5 8 5-22 5 3 5 7 5 3 5 0 5-19 5-15 5 20 5-6 5 8 5-2 5 7 5-1 5 1 5-19 5 12 5-24 5 0 5 14 5-25 5-25 5 27 5-10 5 0 5-12 5 4 5-4 5 0 5 33 5-16 5 6 5 7 5 34 5-5 5-10 5 8 5 10 5 7 5-29 5 32 5-13 5-6 5 3 5 14 5 11 5-20 5 3 5-18 5 15 5 2 5-30 5 10 5 14 5-33 5 14 5 8 5-31 5 12 5 2 5 5 5-31 5 23 5-17 5 3 5-10 5-21 5-11 5-42 5-14 5-19 5-20 5-20 5-79 5-42 5-93 5-114 5-120 5-235 5-277 5-356 5-309 5-43 5 294 5 320 5 301 5 255 5 159 5 109 5 89 5 69 5 47 5 45 5 15 5 23 5 30 5 11 5 22 5-6 5 10 5-6 5 38 5-31 5 23 5-10 5 17 5 6 5-28 5 17 5-19 5 37 5-24 5-16 5 7 5 20 5-4 5-9 5-33 5-3 5 8 5-44 5-16 5-33 5-35 5-15 5-66 5-83 5-112 5-157 5-223 5-316 5-306 5-147 5 165 5 284 5 287 5 244 5 167 5 124 5 84 5 39 5 44 5 40 5 16 5 35 5 24 5 9 5-8 5 15 5 39 5-21 5 28 5 4 5-7 5-4 5 19 5-10 5 11 5 7 5-8 5 8 5 1 5-9 5 14 5-4 5-13 5 20 5 1 5-2 5-17 5 35 5 0 5 1 5-4 5-18 5 17 5-12 5 39 5-32 5 14 5-26 5 5 5 8 5 16 5-2 5-2 5-26 5 36 5-24 5 31 5 3 5-12 5 2 5-27 5 47 5-28 5 9 5-22 5 10 5-13 5 11 5 4 5 3 5 14 5-11 5-3 5-2 5 24 5-31 5 21 5-38 5 13 5 16 5-7 5 39 5-5 5-50 5 6 5 11 5 23 5-7 5-10 5-21 5 7 5-22 5 14 5 24 5 4 5-25 5 17 5 19 5-18 5-5 5 11 5-1 5-5 5-8 5 2 5 6 5-8 5 23 5-5 5 2 5 12 5-6 5-2 5-12 5-7 5 30 5-36 5 1 5-3 5 13 5 3 5 7 5-15 5-18 5 25 5 8 5-12 5-1 5 8 5 11 5-19 5-16 5 11 5 4 5-19 5 31 5-19 5 16 5-4 5-6 5 23 5-26 5-1 5 11 5 7 5-10 5-12 5 20 5-1 5 18 5-28 5 6 5-10 5-11 5 19 5 10 5-23 5 4 5-6 5 31 5-24 5 14 5-17 5 11 5-8 5-21 5 30 5 5 5-32 5 24 5-4 5-7 5 10 5-21 5 27 5 11 5-29 5 14 5 18 5-16 5-7 5-5 5 13 5-4 5 10 5-26 5 31 5-18 5 13 5-17 5-7 5 9 5-4 5 7 5 12 5 5 5-10 5-9 5 1 5 12 5 7 5-18 5 3 5-8 5 12 5 9 5-47 5 38 5-9 5-22 5 32 5-5 5 6 5-21 5 42 5-24 5-6 5 23 5-11 5 2 5 4 5-39 5 45 5-24 5 7 5 8 5-20 5 12 5 6 5-10 5 6 5-25 5 4 5 1 5 18 5 41 5-43 5-5 5 1 5 12 5-4 5-23 5 26 5-14 5 10 5-36 5 4 5 24 5-33 5 21 5-10 5-15 5-16 5-26 5-30 5-48 5-38 5-5 5-56 5-28 5-5 5 3 5 43 5 33 5 53 5 12 5 8 5 38 5 20 5 17 5-28 5-37 5-3 5-15 5 12 5 3 5 9 5 46 5 17 5 14 5 21 5 31 5-16 5-2 5 18 5-28 5 30 5-18 5 1 5 11 5 20 5-29 5 20 5-6 5-21 5 28 5-21 5-8 5 9 5 1 5 16 5-16 5 27 5-15 5-12 5-1 5 13 5-27 5-2 5 16 5 18 5-5 5-2 5-3 5-24 5 23 5-18 5 32 5-10 5-1 5 6 5-1 5-1 5 1 5-11 5-9 5 20 5 14 5-6 5-14 5 10 5-13 5 10 5-12 5 9 5 23 5-15 5 9 5-28 5 1 5 8 5 7 5-9 5 15 5-19 5 23 5-5 5-25 5 21 5-10 5 15 5-19 5 11 5 2 5-40 5 11 5 24 5-3 5 14 5-9 5-18 5 19 5-13 5 6 5-3 5 10 5-21 5 3 5-13 5 53 5-38 5 2 5-4 5 6 5 3 5 13 5-6 5 2 5-11 5 6 5 16 5-15 5 4 5-28 5 31 5-4 5 13 5-49 5 34 5-2 5 2 5-8 5 10 5 6 5-8 5-4 5 1 5-2 5 5 5-9 5-16 5 41 5-38 5 20 5-15 5 13 5-8 5 11 5-10 5-5 5 19 5 12 5-12 5-2 5-14 5 11 5 7 5-14 5 19 5-11 5 5 5-11 5 0 5 9 5 2 5 0 5-17 5 3 5 9 5-22 5 35 5-9 5-3 5-9 5 18 5-13 5 26 5-18 5-23 5 27 5-15 5 0 5 3 5 2 5 4 5 7 5-4 5-14 5-8 5 7 5 14 5 6 5 11 5-38 5 17 5-3 5-2 5 6 5-4 5-1 5-4 5 12 5 8 5 7 5-26 5-6 5 9 5-7 5 23 5-22 5 11 5-18 5 12 5 7 5 16 5-27 5 13 5-29 5 10 5 5 5 4 5 11 5 2 5-27 5 26 5-20 5 36 5-18 5-2 5-4 5 1 5 1 5-9 5 18 5-6 5 6 5-10 5 9 5-17 5 52 5-52 5 4 5 17 5 3 5-25 5-10 5 3 5 5 5 2 5 8 5 14 5 1 5-20 5 14 5 4 5 6 5-19 5-7 5 18 5 9 5-24 5 30 5-3 5-24 5-16 5 12 5 3 5 11 5-27 5 50 5-2 5-37 5-13 5 20 5 7 5 11 5-7 5-11 5-22 5 30 5 4 5-14 5 8 5-1 5-6 5-11 5 18 5-21 5 34 5-28 5 17 5-15 5 14 5-7 5 9 5-16 5-10 5 16 5-1 5-14 5 10 5-12 5 22 5-6 5 5 5 31 5-30 5 3 5 3 5-9 5-6 5 18 5 2 5-48 5 33 5-2 5-2 5 21 5-21 5 17 5-17 5 2 5 13 5-17 5 7 5-12 5 3 5 20 5-2 5-20 5 1 5 46 5-36 5 0 5 20 5-12 5 9 5 19 5 6 5-11 5 21 5-17 5-1 5 1 5-7 5 7 5-8 5-17 5 7 5-12 5-4 5 2 5 11 5-12 5 8 5-4 5-32 5-28 5-33 5-23 5-28 5-12 5-32 5 51 5 38 5 52 5 1 5 17 5-7 5 15 5-1 5 2 5 2 5-7 5 18 5 6 5 5 5-10 5 14 5 0 5-31 5 15 5-12 5 4 5 14 5-4 5 20 5 7 5-20 5-7 5 0 5 2 5 7 5-16 5 16 5-10 5 16 5 4 5 4 5-22 5-15 5-4 5 17 5-14 5-2 5 15 5-7 5 20 5 15 5-26 5 7 5-23 5 21 5-11 5-4 5-10 5 42 5-39 5 5 5 15 5 3 5 0 5-2 5-12 5 20 5-7 5-19 5 36 5-23 5 16 5-29 5 3 5 7 5-1 5 20 5-31 5 21 5-14 5 19 5-4 5-9 5 33 5-27 5 14 5-30 5 15 5 2 5 1 5-6 5-6 5-27 5 31 5-5 5 8 5 14 5 16 5-20 5 6 5-5 5 1 5-1 5-10 5-1 5 8 5 18 5-13 5 10 5-35 5 19 5 2 5 1 5-23 5-5 5-4 5 21 5 33 5-25 5-18 5 19 5-8 5 6 5-7 5-11 5 10 5 15 5-5 5 11 5-28 5 26 5-12 5 2 5 12 5-16 5 5 5 4 5 0 5 2 5 6 5-9 5-12 5 35 5-30 5 5 5-13 5-18 5 17 5 11 5 5 5-6 5 10 5 2 5 0 5-12 5 1 5-4 5-8 5 28 5-32 5 14 5 4 5-29 5 35 5-13 5 7 5-7 5-14 5 21 5-2 5 11 5-6 5-26 5 34 5-4 5 0 5-4 5-14 5 15 5-11 5 39 5-38 5-10 5 9 5 22 5-25 5-22 5 47 5-14 5-10 5 15 5-20 5-3 5 26 5-18 5 13 5-6 5 10 5-9 5-26 5 33 5-14 5 16 5-9 5 16 5-21 5-21 5 21 5 10 5-11 5-1 5 23 5-19 5 14 5-11 5-19 5 6 5 8 5 7 5-13 5-7 5 4 5 6 5-4 5 4 5 29 5-19 5-13 5 10 5 19 5-11 5-9 5-16 5-4 5 17 5 3 5-19 5 4 5 15 5-26 5 6 5 20 5 8 5-3 5 8 5 7 5-8 5-14 5 29 5-6 5-9 5-21 5 15 5-30 5 21 5-26 5 25 5 18 5-13 5 20 5-20 5 1 5-4 5 10 5-7 5 15 5 5 5-15 5-18 5 20 5 10 5-9 5-4 5 8 5 4 5-47 5 50 5-9 5-4 5-12 5 9 5 5 5-25 5 27 5-9 5 17 5-9 5-11 5 3 5 7 5-6 5 5 5-15 5-6 5 8 5-11 5 8 5 14 5-24 5 5 5 24 5-16 5 7 5-15 5 2 5 9 5 24 5-15 5-25 5 25 5 6 5-3 5-23 5 14 5 27 5-37 5 15 5-13 5-6 5 10 5 17 5 2 5-25 5 5 5-5 5-14 5 32 5 12 5-1 5-24 5 22 5-3 5-17 5 4 5-4 5 7 5 19 5-33 5-3 5 25 5-10 5-24 5 11 5 2 5 3 5 11 5 8 5-14 5 4 5-11 5 22 5 4 5-20 5-6 5 35 5-14 5-22 5-10 5 17 5 18 5-21 5 4 5-3 5 13 5 9 5-32 5 12 5 1 5-5 5-7 5 25 5-8 5 6 5 10 5-23 5 11 5-11 5 4 5 5 5-6 5-16 5 36 5-16 5-16 5-13 5 27 5 8 5 4 5 1 5-18 5 13 5-27 5 21 5 9 5-18 5 5 5 3 5 1 5 16 5-31 5 29 5-31 5 7 5-1 5 8 5-5 5 12 5-6 5 27 5-22 5-8 5 8 5 2 5-9 5-11 5 3 5 12 5 8 5-4 5-7 5 8 5-13 5 9 5 15 5-4 5 3 5-21 5 7 5-15 5 23 5-16 5-11 5 10 5 9 5-29 5 9 5 29 5-10 5-2 5-19 5 39 5-7 5-4 5-22 5 20 5 7 5-17 5 0 5-2 5 13 5-10 5-1 5-14 5-3 5 32 5 8 5-9 5 7 5-24 5 6 5 5 5-6 5 22 5-36 5 9 5 2 5-4 5 19 5-35 5 38 5-2 5-8 5 14 5 11 5-26 5 7 5-5 5 2 5-12 5-3 5 16 5-13 5 17 5-1 5-15 5 9 5-3 5-3 5 16 5-13 5 2 5-26 5 30 5-24 5 12 5 25 5 2 5-26 5-11 5 20 5-10 5 9 5-20 5 30 5 5 5-36 5 8 5 1 5 17 5-32 5 26 5-5 5-7 5 18 5-32 5 7 5 7 5 18 5-13 5-5 5 16 5-12 5-2 5 4 5 8 5 28 5-45 5 16 5-5 5-1 5 21 5-9 5-1 5-13 5-5 5 14 5-7 5-4 5 15 5-22 5 6 5 18 5-11 5 9 5-18 5 19 5-17 5 25 5-7 5-4 5 13 5-14 5-12 5 26 5-14 5 10 5-12 5 12 5-25 5-4 5-2 5 26 5-33 5 2 5 5 5 20 5 2 5-15 5 20 5-6 5 11 5-3 5-20 5 11 5-5 5 8 5-3 5-2 5 8 5-8 5 8 5-8 5-2 5 13 5 0 5 3 5-7 5-10 5 5 5-1 5-23 5 8 5 32 5-19 5-34 5 33 5 4 5-17 5 42 5-14 5-3 5-13 5 9 5 4 5-4 5-14 5 10 5-1 5 2 5-16 5 16 5-3 5 3 5-1 5-20 5 28 5-1 5-25 5 15 5-10 5 5 5 18 5-6 5 18 5-23 5-15 5 15 5-31 5 51 5-18 5 2 5-4 5-12 5 9 5-8 5 3 5 10 5-18 5 34 5-33 5 23 5-17 5-8 5 20 5-3 5-5 5 2 5-7 5 13 5-11 5 6 5 13 5-29 5 9 5-1 5-2 5-7 5 13 5 5 5-3 5-18 5 28 5 0 5-8 5-13 5 2 5 34 5-3 5-15 5-17 5 26 5-13 5 18 5-27 5 13 5-8 5 11 5-16 5 18 5-16 5-6 5 18 5-4 5-28 5 24 5 2 5 1 5 22 5-32 5 8 5-21 5 3 5 11 5 5 5-1 5 10 5 1 5 3 5-14 5 8 5-15 5 13 5 2 5-12 5-33 5 31 5 38 5-32 5-7 5 9 5 12 5-9 5-7 5-13 5 11 5-11 5 19 5 13 5-6 5-20 5-5 5-6 5 21 5 1 5 0 5-8 5-23 5-14 5 30 5-31 5 24 5-57 5 4 5-5 5 10 5 3 5-15 5 14 5-22 5 9 5-14 5-3 5-19 5-16 5 1 5-106 5-44 5-55 5-79 5-56 5-98 5-36 5-58 5 0 5-5 5 21 5 19 5 20 5 45 5 58 5 26 5 53 5 21 5 74 5 57 5 13 5 78 5 60 5 1 5 47 5 6 5 20 5-10 5-3 5 4 5 0 5-2 5 0 5 29 5-13 5 0 5 10 5 23 5-29 5 36 5 5 5 8 5-20 5-5 5 13 5-1 5 15 5-15 5-6 5-11 5 13 5 3 5 13 5-13 5 14 5-1 5-25 5-6 5 5 5 4 5-9 5 17 5-4 5 3 5-18 5-17 5-4 5-37 5-16 5-52 5-28 5-109 5-29 5-74 5-81 5-52 5-33 5 8 5 25 5 16 5 59 5 11 5 47 5 30 5 10 5 54 5 29 5 61 5 23 5 30 5 40 5 44 5 25 5 16 5-4 5 26 5-12 5 7 5 17 5-13 5-19 5 32 5-8 5-4 5 21 5-22 5 16 5-6 5 30 5-52 5 24 5 2 5 10 5-18 5-3 5 25 5-22 5 9 5-4 5 6 5-21 5 10 5 6 5 2 5 12 5-7 5 1 5-7 5 16 5-23 5 6 5-16 5 5 5 23 5-11 5-21 5 22 5-3 5-10 5 17 5-7 5 4 5 11 5-19 5 21 5-16 5 0 5 19 5-11 5-10 5 4 5 4 5-20 5 25 5-8 5-15 5 4 5 22 5-26 5 42 5-39 5 15 5-33 5 30 5-5 5 12 5-4 5-6 5 30 5-17 5-18 5 13 5-39 5 28 5 22 5-21 5 8 5-16 5 24 5-8 5-2 5 12 5 8 5-10 5-30 5 25 5-1 5-17 5-6 5 15 5 1 5 3 5-8 5 11 5 1 5-7 5 9 5-12 5-12 5 19 5 11 5 22 5-59 5 20 5-4 5 14 5-14 5 12 5 10 5-21 5 9 5 20 5-9 5-30 5 45 5-33 5 11 5-8 5-1 5-2 5 15 5-16 5-6 5 8 5 7 5-24 5 34 5-18 5 17 5 8 5-13 5 3 5-12 5-3 5-14 5 20 5-4 5-22 5 32 5 15 5-13 5 9 5-17 5-9 5 13 5-5 5-10 5 27 5-11 5-10 5 11 5-5 5 10 5 12 5-27 5-7 5 31 5 12 5-36 5-3 5-4 5 15 5 1 5-4 5 13 5-20 5 3 5-8 5 32 5-4 5 3 5-26 5 26 5-12 5 5 5-2 5-11 5 2 5-16 5 12 5 4 5-11 5 15 5 14 5-21 5-6 5 1 5 13 5 19 5-19 5-1 5-16 5 19 5 4 5-13 5 5 5-8 5 17 5 7 5-11 5 1 5-5 5-8 5-2 5 5 5 6 5-2 5 13 5-3 5 9 5-9 5-12 5 4 5-21 5 40 5-27 5 2 5 27 5-35 5 6 5 6 5-6 5 8 5 2 5 5 5-9 5 10 5-13 5 12 5 7 5-35 5 18 5 5 5-25 5-14 5 40 5-11 5 17 5-9 5 0 5-4 5 5 5-12 5 5 5 15 5-12 5 9 5-6 5-4 5-7 5 21 5-20 5 15 5-23 5 22 5 1 5-12 5-12 5 18 5 3 5-8 5-2 5 20 5-13 5-3 5 15 5-10 5-9 5 19 5-14 5 15 5-19 5 12 5 11 5-10 5 1 5-1 5 5 5-9 5 5 5-9 5 26 5-33 5 20 5-21 5 18 5 9 5-29 5 35 5-33 5 2 5 13 5-16 5 24 5-5 5-39 5 16 5 8 5 14 5-18 5 4 5 16 5-19 5 16 5-20 5 28 5 5 5-31 5-14 5 8 5 32 5-19 5 20 5-29 5 5 5 10 5 14 5-15 5-10 5 16 5-3 5 5 5-8 5-5 5 8 5-30 5 33 5 11 5-8 5-18 5-7 5 34 5-21 5 3 5 6 5-10 5 7 5 18 5-24 5 29 5-18 5-1 5 7 5 0 5 2 5-6 5-14 5 27 5-21 5-9 5 21 5-3 5-8 5 1 5 7 5 16 5-24 5-14 5 8 5 13 5-9 5-5 5 17 5 0 5-11 5 5 5-11 5 1 5 3 5-12 5 20 5-5 5-5 5 7 5 1 5-11 5 2 5-2 5 25 5-36 5 19 5 11 5-23 5 2 5 0 5-10 5 35 5-17 5-10 5 5 5 10 5-6 5-7 5 17 5-17 5 6 5 7 5-11 5 10 5-9 5 39 5-36 5 13 5-19 5-3 5 12 5-2 5 0 5 3 5 11 5 13 5 1 5-24 5 22 5-2 5-28 5 2 5 5 5 24 5-25 5-1 5 19 5-18 5 0 5 9 5-5 5-31 5 14 5 23 5-25 5 31 5-15 5 4 5 0 5-25 5 13 5-4 5 16 5 15 5-21 5 4 5-24 5 19 5 1 5 1 5 9 5 10 5-17 5 5 5-23 5 26 5-7 5-21 5 25 5-12 5 20 5-7 5-4 5 19 5-22 5-2 5 4 5 1 5-11 5 17 5-2 5-11 5-12 5 33 5 1 5-5 5 2 5 9 5-17 5 16 5-21 5-9 5 11 5-4 5 10 5 16 5-17 5 8 5 13 5-4 5-21 5-9 5 34 5-38 5-9 5-2 5 38 5-32 5 15 5 1 5 18 5-33 5 18 5 3 5 13 5-20 5 6 5-6 5 16 5-1 5-16 5 11 5-24 5 18 5-11 5 6 5 17 5 14 5-24 5-4 5-2 5 13 5-11 5 14 5 7 5-11 5-13 5 14 5-17 5-13 5 35 5 9 5-7 5-20 5-36 5 32 5 16 5-12 5 21 5-26 5 15 5-3 5 1 5-20 5 15 5 5 5-8 5-11 5 10 5-6 5 16 5 7 5-7 5 0 5-6 5 4 5-26 5 25 5 10 5-17 5 14 5-26 5 19 5-3 5 8 5-4 5 25 5-65 5 21 5 9 5 9 5-9 5 0 5-11 5 3 5 6 5 29 5-28 5 43 5-21 5-16 5 13 5 3 5-27 5-5 5 38 5-30 5 22 5-2 5-28 5 28 5-1 5 9 5-16 5 6 5-1 5-8 5 23 5-8 5 7 5-14 5 9 5-25 5 4 5 20 5-15 5-2 5 6 5-21 5 22 5 4 5-10 5-10 5 35 5-16 5-18 5 6 5-13 5-1 5-2 5 13 5 15 5 4 5-10 5 13 5-5 5-21 5 4 5 14 5 4 5 5 5-29 5-7 5 48 5-28 5 16 5-12 5-17 5 34 5-12 5 13 5-11 5-19 5 11 5 13 5-20 5 10 5 12 5-29 5 11 5 6 5 10 5-13 5-7 5 15 5-14 5 13 5-1 5-7 5 13 5 4 5-30 5 22 5-8 5-2 5 5 5 13 5-16 5-2 5-11 5 13 5 2 5-11 5 8 5 9 5 11 5-20 5 28 5-12 5-2 5-3 5-6 5-9 5 7 5 2 5 1 5 17 5 5 5-17 5 5 5-20 5-16 5 23 5 4 5 14 5 13 5-26 5 12 5-2 5-11 5 7 5-5 5 14 5-31 5-16 5 30 5 10 5 1 5-19 5 13 5-14 5 16 5-17 5-4 5 24 5-27 5-2 5 27 5-8 5-29 5 42 5-29 5 9 5 4 5 26 5-25 5 12 5-13 5 8 5-23 5 17 5-8 5-5 5 16 5 9 5-7 5-9 5 12 5-22 5 17 5 3 5-8 5-2 5 5 5-8 5 4 5 11 5-32 5 39 5-10 5-3 5-15 5 7 5-2 5 16 5-1 5 6 5-13 5-25 5 13 5 7 5 8 5-22 5 16 5 3 5-8 5 5 5 30 5-28 5 24 5-21 5-11 5 15 5-12 5 4 5-26 5 31 5-11 5 21 5-13 5-6 5-8 5 13 5-5 5-5 5 32 5-24 5 12 5 7 5-12 5 2 5-1 5 5 5-4 5-1 5-5 5-7 5 0 5-2 5 10 5 13 5-27 5 4 5-4 5 11 5 13 5-16 5 7 5-31 5 26 5 7 5-13 5-12 5 25 5-7 5 23 5-28 5 5 5-3 5 6 5-23 5 38 5-9 5-10 5-2 5 11 5-2 5-10 5 3 5 7 5-10 5 1 5-1 5 1 5-11 5 4 5 16 5 5 5-10 5-42 5 25 5 22 5 16 5-6 5-17 5-2 5-1 5 26 5-18 5-14 5 23 5-2 5-34 5 17 5 19 5-1 5-25 5 14 5 11 5-6 5-17 5 10 5 10 5-2 5-17 5 39 5-25 5-20 5 14 5-29 5 24 5 8 5 29 5-26 5 2 5 5 5-7 5-10 5 24 5-10 5 12 5-6 5-24 5 6 5 1 5 0 5 10 5-7 5-8 5 27 5-1 5-16 5-13 5 5 5-1 5-2 5-1 5 15 5 0 5 2 5-16 5 14 5 20 5-20 5-8 5 37 5-29 5-11 5 18 5-19 5 4 5 17 5-19 5-11 5 26 5 2 5-27 5 13 5 17 5-10 5 7 5-12 5-6 5 1 5 3 5 6 5-34 5 9 5 23 5 8 5-16 5 8 5-13 5-3 5 18 5-3 5-5 5-9 5 16 5-2 5-2 5 1 5-3 5 11 5-2 5 17 5-5 5-17 5-14 5 22 5-14 5 25 5-36 5 13 5 23 5-18 5 8 5-1 5-13 5 15 5-20 5 7 5 28 5-27 5 7 5-17"/>
</g>
<polygon fill="#ff0000" points="2054,1360.8 2058.7,1360.8 2059.6,1221 2058.8,1221 2055.2,1352 2054,1352.5"/>
</svg>
</body></html>
